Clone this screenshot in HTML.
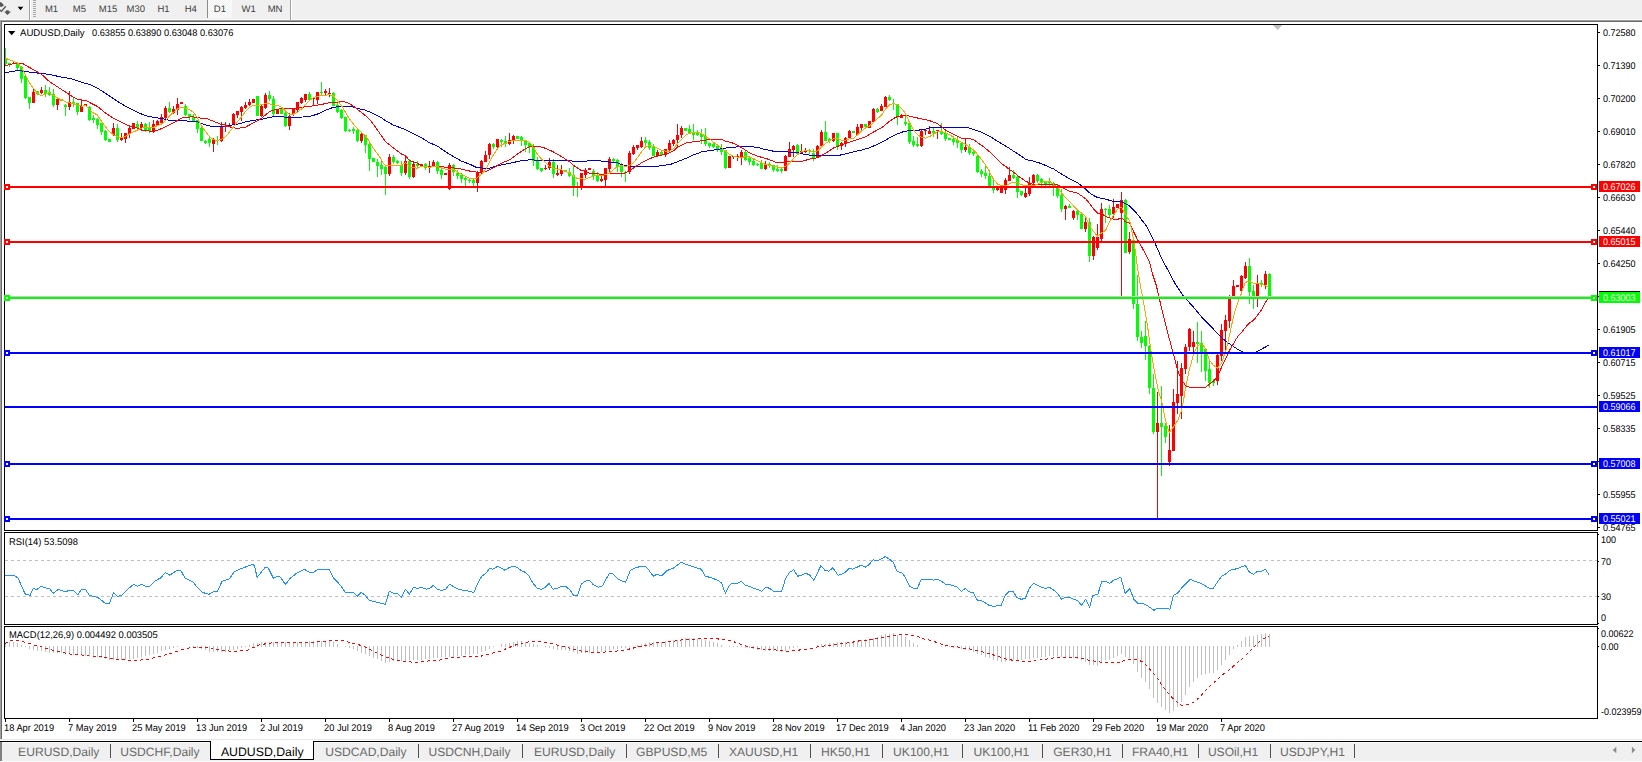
<!DOCTYPE html>
<html><head><meta charset="utf-8"><title>AUDUSD,Daily</title>
<style>
html,body{margin:0;padding:0;}
body{width:1642px;height:762px;overflow:hidden;background:#fff;position:relative;font-family:"Liberation Sans",sans-serif;text-rendering:geometricPrecision;}
.abs{position:absolute;white-space:nowrap;}
.t9{font-size:9.7px;line-height:11px;color:#000;transform:scaleX(.928);transform-origin:0 0;}
.tb{font-size:9.5px;line-height:12px;color:#404040;top:3.8px;transform:scaleX(1.0);transform-origin:0 0;}
.tab{font-size:12.1px;line-height:14px;color:#6a6a6a;top:745px;}
.sep{position:absolute;top:744px;width:1px;height:14px;background:#505050;}
.pl{position:absolute;left:1599px;width:41px;height:11px;color:#fff;font-size:9.7px;line-height:11px;}
.pl span{position:absolute;left:3.8px;top:0.9px;transform:scaleX(.928);transform-origin:0 0;}
</style></head><body>
<!-- toolbar -->
<div class="abs" style="left:0;top:0;width:1642px;height:19px;background:#f0f0f0;"></div>
<div class="abs" style="left:0;top:19px;width:1642px;height:1px;background:#fafafa;"></div>
<div class="abs" style="left:0;top:20px;width:1642px;height:1px;background:#a0a0a0;"></div>
<div class="abs" style="left:1px;top:21px;width:1642px;height:1px;background:#696969;"></div>
<div class="abs" style="left:0;top:21px;width:1px;height:718px;background:#a0a0a0;"></div>
<div class="abs" style="left:1px;top:22px;width:1px;height:717px;background:#696969;"></div>

<svg class="abs" style="left:0;top:0" width="40" height="20" viewBox="0 0 40 20"><polygon points="0,2.6 1,2 4,5.2 2,6.8 0,6.8" fill="#555"/><polyline points="5.8,6.2 1.3,11.4 0,9.8" fill="none" stroke="#555" stroke-width="1.3"/><polygon points="4,11.4 6.2,11.4 6.2,10.2 8.7,10.2 8.7,11.4 11,11.4 7.5,14.9" fill="#555"/><polygon points="17.7,6.8 23.3,6.8 20.5,10.3" fill="#000"/><rect x="29" y="0" width="1" height="20" fill="#a0a0a0"/><rect x="30" y="0" width="1" height="20" fill="#fff"/><rect x="33" y="0" width="3" height="1" fill="#a8a8a8"/><rect x="33" y="2" width="3" height="1" fill="#a8a8a8"/><rect x="33" y="4" width="3" height="1" fill="#a8a8a8"/><rect x="33" y="6" width="3" height="1" fill="#a8a8a8"/><rect x="33" y="8" width="3" height="1" fill="#a8a8a8"/><rect x="33" y="10" width="3" height="1" fill="#a8a8a8"/><rect x="33" y="12" width="3" height="1" fill="#a8a8a8"/><rect x="33" y="14" width="3" height="1" fill="#a8a8a8"/><rect x="33" y="16" width="3" height="1" fill="#a8a8a8"/></svg>
<div class="abs" style="left:207px;top:0;width:25px;height:18px;background-color:#f0f0f0;background-image:conic-gradient(#fff 25%,#f0f0f0 0 50%,#fff 0 75%,#f0f0f0 0);background-size:2px 2px;border-left:1px solid #8a8a8a;box-sizing:border-box;"></div>
<div class="abs" style="left:290px;top:0;width:1px;height:20px;background:#a0a0a0;"></div><div class="abs" style="left:291px;top:0;width:1px;height:20px;background:#fff;"></div>
<div class="abs tb" style="left:44.9px">M1</div>
<div class="abs tb" style="left:72.8px">M5</div>
<div class="abs tb" style="left:98.8px">M15</div>
<div class="abs tb" style="left:126.6px">M30</div>
<div class="abs tb" style="left:157.5px">H1</div>
<div class="abs tb" style="left:184.7px">H4</div>
<div class="abs tb" style="left:213.8px">D1</div>
<div class="abs tb" style="left:241.5px">W1</div>
<div class="abs tb" style="left:267.7px">MN</div>
<svg class="abs" style="left:0;top:0" width="1642" height="762" viewBox="0 0 1642 762">
<rect x="4.5" y="24.5" width="1593" height="506" fill="#fff" stroke="#000" stroke-width="1"/>
<rect x="4.5" y="532.5" width="1593" height="92" fill="#fff" stroke="#000" stroke-width="1"/>
<rect x="4.5" y="626.5" width="1593" height="92" fill="#fff" stroke="#000" stroke-width="1"/>
<g shape-rendering="crispEdges"><rect x="5" y="48" width="1" height="17" fill="#00ff00"/><rect x="4" y="58" width="3" height="6" fill="#00ff00"/><rect x="9" y="63" width="1" height="4" fill="#00ff00"/><rect x="8" y="63" width="3" height="2" fill="#00ff00"/><rect x="13" y="62" width="1" height="2" fill="#ff0000"/><rect x="12" y="63" width="3" height="1" fill="#ff0000"/><rect x="17" y="62" width="1" height="8" fill="#00ff00"/><rect x="16" y="63" width="3" height="5" fill="#00ff00"/><rect x="21" y="66" width="1" height="17" fill="#00ff00"/><rect x="20" y="67" width="3" height="12" fill="#00ff00"/><rect x="25" y="74" width="1" height="25" fill="#00ff00"/><rect x="24" y="76" width="3" height="22" fill="#00ff00"/><rect x="29" y="97" width="1" height="12" fill="#00ff00"/><rect x="28" y="97" width="3" height="6" fill="#00ff00"/><rect x="33" y="88" width="1" height="15" fill="#ff0000"/><rect x="32" y="92" width="3" height="11" fill="#ff0000"/><rect x="37" y="91" width="1" height="4" fill="#00ff00"/><rect x="36" y="91" width="3" height="3" fill="#00ff00"/><rect x="41" y="87" width="1" height="7" fill="#ff0000"/><rect x="40" y="90" width="3" height="3" fill="#ff0000"/><rect x="45" y="85" width="1" height="12" fill="#00ff00"/><rect x="44" y="90" width="3" height="4" fill="#00ff00"/><rect x="49" y="87" width="1" height="9" fill="#00ff00"/><rect x="48" y="92" width="3" height="3" fill="#00ff00"/><rect x="53" y="89" width="1" height="18" fill="#00ff00"/><rect x="52" y="94" width="3" height="11" fill="#00ff00"/><rect x="57" y="98" width="1" height="12" fill="#ff0000"/><rect x="56" y="99" width="3" height="6" fill="#ff0000"/><rect x="61" y="99" width="1" height="2" fill="#00ff00"/><rect x="60" y="99" width="3" height="2" fill="#00ff00"/><rect x="65" y="104" width="1" height="12" fill="#00ff00"/><rect x="64" y="105" width="3" height="2" fill="#00ff00"/><rect x="69" y="91" width="1" height="19" fill="#ff0000"/><rect x="68" y="102" width="3" height="5" fill="#ff0000"/><rect x="73" y="97" width="1" height="10" fill="#00ff00"/><rect x="72" y="102" width="3" height="1" fill="#00ff00"/><rect x="77" y="103" width="1" height="12" fill="#00ff00"/><rect x="76" y="103" width="3" height="9" fill="#00ff00"/><rect x="81" y="99" width="1" height="13" fill="#ff0000"/><rect x="80" y="106" width="3" height="6" fill="#ff0000"/><rect x="85" y="104" width="1" height="2" fill="#ff0000"/><rect x="84" y="104" width="3" height="2" fill="#ff0000"/><rect x="89" y="106" width="1" height="15" fill="#00ff00"/><rect x="88" y="107" width="3" height="13" fill="#00ff00"/><rect x="93" y="115" width="1" height="8" fill="#00ff00"/><rect x="92" y="118" width="3" height="2" fill="#00ff00"/><rect x="97" y="118" width="1" height="11" fill="#00ff00"/><rect x="96" y="119" width="3" height="6" fill="#00ff00"/><rect x="101" y="123" width="1" height="12" fill="#00ff00"/><rect x="100" y="123" width="3" height="9" fill="#00ff00"/><rect x="105" y="130" width="1" height="11" fill="#00ff00"/><rect x="104" y="131" width="3" height="9" fill="#00ff00"/><rect x="109" y="139" width="1" height="3" fill="#00ff00"/><rect x="108" y="139" width="3" height="3" fill="#00ff00"/><rect x="113" y="123" width="1" height="13" fill="#ff0000"/><rect x="112" y="128" width="3" height="7" fill="#ff0000"/><rect x="117" y="124" width="1" height="18" fill="#00ff00"/><rect x="116" y="128" width="3" height="12" fill="#00ff00"/><rect x="121" y="133" width="1" height="8" fill="#ff0000"/><rect x="120" y="138" width="3" height="2" fill="#ff0000"/><rect x="125" y="133" width="1" height="10" fill="#ff0000"/><rect x="124" y="133" width="3" height="6" fill="#ff0000"/><rect x="129" y="125" width="1" height="13" fill="#ff0000"/><rect x="128" y="128" width="3" height="6" fill="#ff0000"/><rect x="133" y="123" width="1" height="6" fill="#ff0000"/><rect x="132" y="123" width="3" height="6" fill="#ff0000"/><rect x="137" y="121" width="1" height="8" fill="#00ff00"/><rect x="136" y="124" width="3" height="4" fill="#00ff00"/><rect x="141" y="122" width="1" height="8" fill="#ff0000"/><rect x="140" y="124" width="3" height="4" fill="#ff0000"/><rect x="145" y="123" width="1" height="9" fill="#00ff00"/><rect x="144" y="124" width="3" height="6" fill="#00ff00"/><rect x="149" y="122" width="1" height="11" fill="#00ff00"/><rect x="148" y="127" width="3" height="4" fill="#00ff00"/><rect x="153" y="120" width="1" height="13" fill="#ff0000"/><rect x="152" y="124" width="3" height="7" fill="#ff0000"/><rect x="157" y="120" width="1" height="5" fill="#ff0000"/><rect x="156" y="121" width="3" height="4" fill="#ff0000"/><rect x="161" y="114" width="1" height="10" fill="#ff0000"/><rect x="160" y="117" width="3" height="6" fill="#ff0000"/><rect x="165" y="106" width="1" height="13" fill="#ff0000"/><rect x="164" y="108" width="3" height="10" fill="#ff0000"/><rect x="169" y="102" width="1" height="11" fill="#00ff00"/><rect x="168" y="108" width="3" height="4" fill="#00ff00"/><rect x="173" y="106" width="1" height="8" fill="#ff0000"/><rect x="172" y="109" width="3" height="4" fill="#ff0000"/><rect x="177" y="98" width="1" height="17" fill="#ff0000"/><rect x="176" y="104" width="3" height="6" fill="#ff0000"/><rect x="181" y="102" width="1" height="2" fill="#ff0000"/><rect x="180" y="102" width="3" height="2" fill="#ff0000"/><rect x="185" y="104" width="1" height="12" fill="#00ff00"/><rect x="184" y="106" width="3" height="9" fill="#00ff00"/><rect x="189" y="114" width="1" height="6" fill="#00ff00"/><rect x="188" y="114" width="3" height="3" fill="#00ff00"/><rect x="193" y="114" width="1" height="8" fill="#00ff00"/><rect x="192" y="117" width="3" height="4" fill="#00ff00"/><rect x="197" y="120" width="1" height="13" fill="#00ff00"/><rect x="196" y="120" width="3" height="9" fill="#00ff00"/><rect x="201" y="127" width="1" height="14" fill="#00ff00"/><rect x="200" y="128" width="3" height="13" fill="#00ff00"/><rect x="205" y="140" width="1" height="4" fill="#00ff00"/><rect x="204" y="141" width="3" height="2" fill="#00ff00"/><rect x="209" y="136" width="1" height="11" fill="#00ff00"/><rect x="208" y="139" width="3" height="4" fill="#00ff00"/><rect x="213" y="138" width="1" height="14" fill="#ff0000"/><rect x="212" y="140" width="3" height="4" fill="#ff0000"/><rect x="217" y="136" width="1" height="9" fill="#00ff00"/><rect x="216" y="140" width="3" height="1" fill="#00ff00"/><rect x="221" y="122" width="1" height="20" fill="#ff0000"/><rect x="220" y="126" width="3" height="15" fill="#ff0000"/><rect x="225" y="122" width="1" height="10" fill="#ff0000"/><rect x="224" y="126" width="3" height="1" fill="#ff0000"/><rect x="229" y="123" width="1" height="4" fill="#ff0000"/><rect x="228" y="125" width="3" height="2" fill="#ff0000"/><rect x="233" y="113" width="1" height="11" fill="#ff0000"/><rect x="232" y="114" width="3" height="10" fill="#ff0000"/><rect x="237" y="111" width="1" height="7" fill="#ff0000"/><rect x="236" y="111" width="3" height="4" fill="#ff0000"/><rect x="241" y="106" width="1" height="15" fill="#ff0000"/><rect x="240" y="107" width="3" height="5" fill="#ff0000"/><rect x="245" y="102" width="1" height="7" fill="#ff0000"/><rect x="244" y="105" width="3" height="3" fill="#ff0000"/><rect x="249" y="99" width="1" height="7" fill="#ff0000"/><rect x="248" y="102" width="3" height="3" fill="#ff0000"/><rect x="253" y="99" width="1" height="4" fill="#ff0000"/><rect x="252" y="99" width="3" height="4" fill="#ff0000"/><rect x="257" y="96" width="1" height="20" fill="#00ff00"/><rect x="256" y="96" width="3" height="20" fill="#00ff00"/><rect x="261" y="104" width="1" height="13" fill="#ff0000"/><rect x="260" y="106" width="3" height="10" fill="#ff0000"/><rect x="265" y="93" width="1" height="16" fill="#ff0000"/><rect x="264" y="95" width="3" height="13" fill="#ff0000"/><rect x="269" y="91" width="1" height="10" fill="#00ff00"/><rect x="268" y="95" width="3" height="4" fill="#00ff00"/><rect x="273" y="96" width="1" height="21" fill="#00ff00"/><rect x="272" y="99" width="3" height="15" fill="#00ff00"/><rect x="277" y="109" width="1" height="5" fill="#ff0000"/><rect x="276" y="109" width="3" height="5" fill="#ff0000"/><rect x="281" y="108" width="1" height="6" fill="#00ff00"/><rect x="280" y="108" width="3" height="6" fill="#00ff00"/><rect x="285" y="111" width="1" height="16" fill="#00ff00"/><rect x="284" y="113" width="3" height="13" fill="#00ff00"/><rect x="289" y="113" width="1" height="17" fill="#ff0000"/><rect x="288" y="116" width="3" height="10" fill="#ff0000"/><rect x="293" y="108" width="1" height="8" fill="#ff0000"/><rect x="292" y="108" width="3" height="6" fill="#ff0000"/><rect x="297" y="102" width="1" height="10" fill="#ff0000"/><rect x="296" y="102" width="3" height="8" fill="#ff0000"/><rect x="301" y="97" width="1" height="7" fill="#ff0000"/><rect x="300" y="98" width="3" height="5" fill="#ff0000"/><rect x="305" y="94" width="1" height="8" fill="#ff0000"/><rect x="304" y="94" width="3" height="6" fill="#ff0000"/><rect x="309" y="92" width="1" height="8" fill="#00ff00"/><rect x="308" y="94" width="3" height="6" fill="#00ff00"/><rect x="313" y="98" width="1" height="8" fill="#ff0000"/><rect x="312" y="98" width="3" height="1" fill="#ff0000"/><rect x="317" y="92" width="1" height="12" fill="#ff0000"/><rect x="316" y="92" width="3" height="8" fill="#ff0000"/><rect x="321" y="82" width="1" height="13" fill="#00ff00"/><rect x="320" y="92" width="3" height="1" fill="#00ff00"/><rect x="325" y="89" width="1" height="6" fill="#ff0000"/><rect x="324" y="91" width="3" height="2" fill="#ff0000"/><rect x="329" y="88" width="1" height="9" fill="#ff0000"/><rect x="328" y="93" width="3" height="1" fill="#ff0000"/><rect x="333" y="92" width="1" height="14" fill="#00ff00"/><rect x="332" y="93" width="3" height="13" fill="#00ff00"/><rect x="337" y="103" width="1" height="10" fill="#00ff00"/><rect x="336" y="105" width="3" height="7" fill="#00ff00"/><rect x="341" y="109" width="1" height="10" fill="#00ff00"/><rect x="340" y="110" width="3" height="8" fill="#00ff00"/><rect x="345" y="117" width="1" height="15" fill="#00ff00"/><rect x="344" y="117" width="3" height="14" fill="#00ff00"/><rect x="349" y="129" width="1" height="3" fill="#00ff00"/><rect x="348" y="130" width="3" height="1" fill="#00ff00"/><rect x="353" y="127" width="1" height="7" fill="#00ff00"/><rect x="352" y="129" width="3" height="2" fill="#00ff00"/><rect x="357" y="130" width="1" height="12" fill="#00ff00"/><rect x="356" y="130" width="3" height="11" fill="#00ff00"/><rect x="361" y="132" width="1" height="11" fill="#ff0000"/><rect x="360" y="134" width="3" height="7" fill="#ff0000"/><rect x="365" y="135" width="1" height="18" fill="#00ff00"/><rect x="364" y="135" width="3" height="10" fill="#00ff00"/><rect x="369" y="142" width="1" height="29" fill="#00ff00"/><rect x="368" y="144" width="3" height="15" fill="#00ff00"/><rect x="373" y="158" width="1" height="4" fill="#00ff00"/><rect x="372" y="158" width="3" height="4" fill="#00ff00"/><rect x="377" y="159" width="1" height="18" fill="#00ff00"/><rect x="376" y="162" width="3" height="4" fill="#00ff00"/><rect x="381" y="161" width="1" height="14" fill="#00ff00"/><rect x="380" y="165" width="3" height="4" fill="#00ff00"/><rect x="385" y="165" width="1" height="30" fill="#00ff00"/><rect x="384" y="167" width="3" height="7" fill="#00ff00"/><rect x="389" y="154" width="1" height="22" fill="#ff0000"/><rect x="388" y="157" width="3" height="17" fill="#ff0000"/><rect x="393" y="155" width="1" height="9" fill="#00ff00"/><rect x="392" y="157" width="3" height="5" fill="#00ff00"/><rect x="397" y="160" width="1" height="4" fill="#00ff00"/><rect x="396" y="161" width="3" height="2" fill="#00ff00"/><rect x="401" y="161" width="1" height="15" fill="#00ff00"/><rect x="400" y="165" width="3" height="8" fill="#00ff00"/><rect x="405" y="155" width="1" height="20" fill="#ff0000"/><rect x="404" y="161" width="3" height="12" fill="#ff0000"/><rect x="409" y="159" width="1" height="20" fill="#00ff00"/><rect x="408" y="161" width="3" height="16" fill="#00ff00"/><rect x="413" y="161" width="1" height="17" fill="#ff0000"/><rect x="412" y="164" width="3" height="13" fill="#ff0000"/><rect x="417" y="161" width="1" height="7" fill="#00ff00"/><rect x="416" y="164" width="3" height="2" fill="#00ff00"/><rect x="421" y="164" width="1" height="2" fill="#ff0000"/><rect x="420" y="164" width="3" height="2" fill="#ff0000"/><rect x="425" y="163" width="1" height="7" fill="#00ff00"/><rect x="424" y="164" width="3" height="4" fill="#00ff00"/><rect x="429" y="161" width="1" height="12" fill="#ff0000"/><rect x="428" y="166" width="3" height="2" fill="#ff0000"/><rect x="433" y="160" width="1" height="7" fill="#ff0000"/><rect x="432" y="162" width="3" height="4" fill="#ff0000"/><rect x="437" y="161" width="1" height="13" fill="#00ff00"/><rect x="436" y="162" width="3" height="9" fill="#00ff00"/><rect x="441" y="168" width="1" height="11" fill="#00ff00"/><rect x="440" y="170" width="3" height="5" fill="#00ff00"/><rect x="445" y="173" width="1" height="2" fill="#ff0000"/><rect x="444" y="173" width="3" height="2" fill="#ff0000"/><rect x="449" y="163" width="1" height="27" fill="#ff0000"/><rect x="448" y="165" width="3" height="24" fill="#ff0000"/><rect x="453" y="164" width="1" height="12" fill="#00ff00"/><rect x="452" y="165" width="3" height="7" fill="#00ff00"/><rect x="457" y="170" width="1" height="9" fill="#00ff00"/><rect x="456" y="173" width="3" height="3" fill="#00ff00"/><rect x="461" y="173" width="1" height="10" fill="#00ff00"/><rect x="460" y="175" width="3" height="4" fill="#00ff00"/><rect x="465" y="176" width="1" height="10" fill="#00ff00"/><rect x="464" y="178" width="3" height="2" fill="#00ff00"/><rect x="469" y="179" width="1" height="4" fill="#00ff00"/><rect x="468" y="180" width="3" height="1" fill="#00ff00"/><rect x="473" y="178" width="1" height="8" fill="#00ff00"/><rect x="472" y="180" width="3" height="3" fill="#00ff00"/><rect x="477" y="171" width="1" height="21" fill="#ff0000"/><rect x="476" y="172" width="3" height="11" fill="#ff0000"/><rect x="481" y="160" width="1" height="14" fill="#ff0000"/><rect x="480" y="161" width="3" height="11" fill="#ff0000"/><rect x="485" y="151" width="1" height="11" fill="#ff0000"/><rect x="484" y="155" width="3" height="7" fill="#ff0000"/><rect x="489" y="143" width="1" height="16" fill="#ff0000"/><rect x="488" y="144" width="3" height="11" fill="#ff0000"/><rect x="493" y="143" width="1" height="6" fill="#00ff00"/><rect x="492" y="144" width="3" height="3" fill="#00ff00"/><rect x="497" y="139" width="1" height="10" fill="#ff0000"/><rect x="496" y="139" width="3" height="8" fill="#ff0000"/><rect x="501" y="139" width="1" height="8" fill="#00ff00"/><rect x="500" y="140" width="3" height="2" fill="#00ff00"/><rect x="505" y="136" width="1" height="11" fill="#00ff00"/><rect x="504" y="141" width="3" height="3" fill="#00ff00"/><rect x="509" y="133" width="1" height="12" fill="#ff0000"/><rect x="508" y="140" width="3" height="4" fill="#ff0000"/><rect x="513" y="135" width="1" height="9" fill="#ff0000"/><rect x="512" y="136" width="3" height="4" fill="#ff0000"/><rect x="517" y="136" width="1" height="3" fill="#00ff00"/><rect x="516" y="136" width="3" height="3" fill="#00ff00"/><rect x="521" y="136" width="1" height="10" fill="#00ff00"/><rect x="520" y="137" width="3" height="3" fill="#00ff00"/><rect x="525" y="141" width="1" height="11" fill="#00ff00"/><rect x="524" y="141" width="3" height="4" fill="#00ff00"/><rect x="529" y="142" width="1" height="11" fill="#00ff00"/><rect x="528" y="143" width="3" height="4" fill="#00ff00"/><rect x="533" y="144" width="1" height="22" fill="#00ff00"/><rect x="532" y="147" width="3" height="14" fill="#00ff00"/><rect x="537" y="157" width="1" height="13" fill="#00ff00"/><rect x="536" y="161" width="3" height="8" fill="#00ff00"/><rect x="541" y="168" width="1" height="4" fill="#00ff00"/><rect x="540" y="168" width="3" height="3" fill="#00ff00"/><rect x="545" y="165" width="1" height="5" fill="#ff0000"/><rect x="544" y="168" width="3" height="1" fill="#ff0000"/><rect x="549" y="158" width="1" height="12" fill="#ff0000"/><rect x="548" y="162" width="3" height="6" fill="#ff0000"/><rect x="553" y="159" width="1" height="19" fill="#00ff00"/><rect x="552" y="162" width="3" height="12" fill="#00ff00"/><rect x="557" y="165" width="1" height="11" fill="#ff0000"/><rect x="556" y="173" width="3" height="2" fill="#ff0000"/><rect x="561" y="165" width="1" height="11" fill="#ff0000"/><rect x="560" y="170" width="3" height="4" fill="#ff0000"/><rect x="565" y="170" width="1" height="2" fill="#00ff00"/><rect x="564" y="170" width="3" height="2" fill="#00ff00"/><rect x="569" y="168" width="1" height="9" fill="#00ff00"/><rect x="568" y="172" width="3" height="4" fill="#00ff00"/><rect x="573" y="166" width="1" height="30" fill="#00ff00"/><rect x="572" y="175" width="3" height="11" fill="#00ff00"/><rect x="577" y="182" width="1" height="15" fill="#00ff00"/><rect x="576" y="187" width="3" height="1" fill="#00ff00"/><rect x="581" y="173" width="1" height="17" fill="#ff0000"/><rect x="580" y="173" width="3" height="15" fill="#ff0000"/><rect x="585" y="168" width="1" height="10" fill="#ff0000"/><rect x="584" y="170" width="3" height="5" fill="#ff0000"/><rect x="589" y="168" width="1" height="2" fill="#ff0000"/><rect x="588" y="168" width="3" height="2" fill="#ff0000"/><rect x="593" y="169" width="1" height="11" fill="#00ff00"/><rect x="592" y="171" width="3" height="5" fill="#00ff00"/><rect x="597" y="172" width="1" height="10" fill="#00ff00"/><rect x="596" y="175" width="3" height="6" fill="#00ff00"/><rect x="601" y="175" width="1" height="7" fill="#ff0000"/><rect x="600" y="179" width="3" height="2" fill="#ff0000"/><rect x="605" y="168" width="1" height="18" fill="#ff0000"/><rect x="604" y="168" width="3" height="12" fill="#ff0000"/><rect x="609" y="157" width="1" height="15" fill="#ff0000"/><rect x="608" y="159" width="3" height="10" fill="#ff0000"/><rect x="613" y="158" width="1" height="4" fill="#00ff00"/><rect x="612" y="159" width="3" height="2" fill="#00ff00"/><rect x="617" y="159" width="1" height="13" fill="#00ff00"/><rect x="616" y="160" width="3" height="7" fill="#00ff00"/><rect x="621" y="163" width="1" height="14" fill="#00ff00"/><rect x="620" y="166" width="3" height="6" fill="#00ff00"/><rect x="625" y="171" width="1" height="11" fill="#00ff00"/><rect x="624" y="172" width="3" height="1" fill="#00ff00"/><rect x="629" y="151" width="1" height="23" fill="#ff0000"/><rect x="628" y="153" width="3" height="19" fill="#ff0000"/><rect x="633" y="145" width="1" height="10" fill="#ff0000"/><rect x="632" y="147" width="3" height="7" fill="#ff0000"/><rect x="637" y="145" width="1" height="5" fill="#ff0000"/><rect x="636" y="145" width="3" height="3" fill="#ff0000"/><rect x="641" y="137" width="1" height="11" fill="#ff0000"/><rect x="640" y="141" width="3" height="6" fill="#ff0000"/><rect x="645" y="137" width="1" height="9" fill="#00ff00"/><rect x="644" y="140" width="3" height="3" fill="#00ff00"/><rect x="649" y="140" width="1" height="10" fill="#00ff00"/><rect x="648" y="142" width="3" height="6" fill="#00ff00"/><rect x="653" y="144" width="1" height="12" fill="#00ff00"/><rect x="652" y="147" width="3" height="9" fill="#00ff00"/><rect x="657" y="150" width="1" height="7" fill="#ff0000"/><rect x="656" y="152" width="3" height="4" fill="#ff0000"/><rect x="661" y="151" width="1" height="5" fill="#00ff00"/><rect x="660" y="152" width="3" height="3" fill="#00ff00"/><rect x="665" y="149" width="1" height="8" fill="#ff0000"/><rect x="664" y="149" width="3" height="5" fill="#ff0000"/><rect x="669" y="140" width="1" height="11" fill="#ff0000"/><rect x="668" y="143" width="3" height="7" fill="#ff0000"/><rect x="673" y="139" width="1" height="7" fill="#ff0000"/><rect x="672" y="140" width="3" height="4" fill="#ff0000"/><rect x="677" y="124" width="1" height="22" fill="#ff0000"/><rect x="676" y="135" width="3" height="5" fill="#ff0000"/><rect x="681" y="126" width="1" height="12" fill="#ff0000"/><rect x="680" y="128" width="3" height="7" fill="#ff0000"/><rect x="685" y="128" width="1" height="3" fill="#00ff00"/><rect x="684" y="128" width="3" height="3" fill="#00ff00"/><rect x="689" y="125" width="1" height="8" fill="#00ff00"/><rect x="688" y="129" width="3" height="4" fill="#00ff00"/><rect x="693" y="124" width="1" height="16" fill="#00ff00"/><rect x="692" y="132" width="3" height="3" fill="#00ff00"/><rect x="697" y="130" width="1" height="6" fill="#00ff00"/><rect x="696" y="132" width="3" height="3" fill="#00ff00"/><rect x="701" y="129" width="1" height="15" fill="#00ff00"/><rect x="700" y="134" width="3" height="3" fill="#00ff00"/><rect x="705" y="128" width="1" height="18" fill="#00ff00"/><rect x="704" y="136" width="3" height="8" fill="#00ff00"/><rect x="709" y="143" width="1" height="5" fill="#00ff00"/><rect x="708" y="143" width="3" height="3" fill="#00ff00"/><rect x="713" y="142" width="1" height="6" fill="#00ff00"/><rect x="712" y="144" width="3" height="3" fill="#00ff00"/><rect x="717" y="145" width="1" height="7" fill="#00ff00"/><rect x="716" y="146" width="3" height="3" fill="#00ff00"/><rect x="721" y="144" width="1" height="11" fill="#00ff00"/><rect x="720" y="148" width="3" height="4" fill="#00ff00"/><rect x="725" y="150" width="1" height="19" fill="#00ff00"/><rect x="724" y="150" width="3" height="18" fill="#00ff00"/><rect x="729" y="156" width="1" height="12" fill="#ff0000"/><rect x="728" y="156" width="3" height="12" fill="#ff0000"/><rect x="733" y="156" width="1" height="3" fill="#ff0000"/><rect x="732" y="156" width="3" height="1" fill="#ff0000"/><rect x="737" y="154" width="1" height="7" fill="#ff0000"/><rect x="736" y="156" width="3" height="1" fill="#ff0000"/><rect x="741" y="150" width="1" height="15" fill="#ff0000"/><rect x="740" y="152" width="3" height="5" fill="#ff0000"/><rect x="745" y="150" width="1" height="11" fill="#00ff00"/><rect x="744" y="152" width="3" height="8" fill="#00ff00"/><rect x="749" y="156" width="1" height="9" fill="#00ff00"/><rect x="748" y="158" width="3" height="4" fill="#00ff00"/><rect x="753" y="159" width="1" height="7" fill="#00ff00"/><rect x="752" y="161" width="3" height="4" fill="#00ff00"/><rect x="757" y="163" width="1" height="3" fill="#00ff00"/><rect x="756" y="164" width="3" height="1" fill="#00ff00"/><rect x="761" y="160" width="1" height="9" fill="#00ff00"/><rect x="760" y="163" width="3" height="6" fill="#00ff00"/><rect x="765" y="161" width="1" height="9" fill="#ff0000"/><rect x="764" y="164" width="3" height="5" fill="#ff0000"/><rect x="769" y="162" width="1" height="6" fill="#00ff00"/><rect x="768" y="164" width="3" height="1" fill="#00ff00"/><rect x="773" y="165" width="1" height="7" fill="#00ff00"/><rect x="772" y="165" width="3" height="5" fill="#00ff00"/><rect x="777" y="165" width="1" height="7" fill="#00ff00"/><rect x="776" y="169" width="3" height="2" fill="#00ff00"/><rect x="781" y="168" width="1" height="5" fill="#00ff00"/><rect x="780" y="169" width="3" height="2" fill="#00ff00"/><rect x="785" y="155" width="1" height="16" fill="#ff0000"/><rect x="784" y="156" width="3" height="15" fill="#ff0000"/><rect x="789" y="142" width="1" height="15" fill="#ff0000"/><rect x="788" y="149" width="3" height="8" fill="#ff0000"/><rect x="793" y="145" width="1" height="12" fill="#ff0000"/><rect x="792" y="146" width="3" height="4" fill="#ff0000"/><rect x="797" y="144" width="1" height="11" fill="#00ff00"/><rect x="796" y="145" width="3" height="9" fill="#00ff00"/><rect x="801" y="144" width="1" height="9" fill="#ff0000"/><rect x="800" y="151" width="3" height="2" fill="#ff0000"/><rect x="805" y="148" width="1" height="5" fill="#ff0000"/><rect x="804" y="151" width="3" height="1" fill="#ff0000"/><rect x="809" y="149" width="1" height="5" fill="#00ff00"/><rect x="808" y="150" width="3" height="1" fill="#00ff00"/><rect x="813" y="149" width="1" height="12" fill="#00ff00"/><rect x="812" y="153" width="3" height="6" fill="#00ff00"/><rect x="817" y="145" width="1" height="13" fill="#ff0000"/><rect x="816" y="146" width="3" height="12" fill="#ff0000"/><rect x="821" y="130" width="1" height="16" fill="#ff0000"/><rect x="820" y="132" width="3" height="14" fill="#ff0000"/><rect x="825" y="121" width="1" height="20" fill="#00ff00"/><rect x="824" y="132" width="3" height="9" fill="#00ff00"/><rect x="829" y="138" width="1" height="5" fill="#00ff00"/><rect x="828" y="139" width="3" height="2" fill="#00ff00"/><rect x="833" y="133" width="1" height="9" fill="#ff0000"/><rect x="832" y="133" width="3" height="8" fill="#ff0000"/><rect x="837" y="133" width="1" height="17" fill="#00ff00"/><rect x="836" y="133" width="3" height="13" fill="#00ff00"/><rect x="841" y="142" width="1" height="8" fill="#ff0000"/><rect x="840" y="143" width="3" height="3" fill="#ff0000"/><rect x="845" y="137" width="1" height="10" fill="#ff0000"/><rect x="844" y="138" width="3" height="6" fill="#ff0000"/><rect x="849" y="130" width="1" height="9" fill="#ff0000"/><rect x="848" y="131" width="3" height="7" fill="#ff0000"/><rect x="853" y="131" width="1" height="2" fill="#00ff00"/><rect x="852" y="131" width="3" height="2" fill="#00ff00"/><rect x="857" y="124" width="1" height="11" fill="#ff0000"/><rect x="856" y="127" width="3" height="8" fill="#ff0000"/><rect x="861" y="124" width="1" height="6" fill="#ff0000"/><rect x="860" y="124" width="3" height="4" fill="#ff0000"/><rect x="865" y="124" width="1" height="4" fill="#00ff00"/><rect x="864" y="124" width="3" height="3" fill="#00ff00"/><rect x="869" y="121" width="1" height="7" fill="#ff0000"/><rect x="868" y="121" width="3" height="7" fill="#ff0000"/><rect x="873" y="108" width="1" height="14" fill="#ff0000"/><rect x="872" y="109" width="3" height="13" fill="#ff0000"/><rect x="877" y="108" width="1" height="5" fill="#00ff00"/><rect x="876" y="109" width="3" height="3" fill="#00ff00"/><rect x="881" y="104" width="1" height="7" fill="#ff0000"/><rect x="880" y="106" width="3" height="5" fill="#ff0000"/><rect x="885" y="96" width="1" height="11" fill="#ff0000"/><rect x="884" y="97" width="3" height="10" fill="#ff0000"/><rect x="889" y="95" width="1" height="6" fill="#00ff00"/><rect x="888" y="97" width="3" height="3" fill="#00ff00"/><rect x="893" y="99" width="1" height="11" fill="#00ff00"/><rect x="892" y="103" width="3" height="1" fill="#00ff00"/><rect x="897" y="104" width="1" height="21" fill="#00ff00"/><rect x="896" y="104" width="3" height="13" fill="#00ff00"/><rect x="901" y="114" width="1" height="4" fill="#ff0000"/><rect x="900" y="115" width="3" height="3" fill="#ff0000"/><rect x="905" y="116" width="1" height="10" fill="#00ff00"/><rect x="904" y="122" width="3" height="2" fill="#00ff00"/><rect x="909" y="122" width="1" height="22" fill="#00ff00"/><rect x="908" y="123" width="3" height="19" fill="#00ff00"/><rect x="913" y="136" width="1" height="11" fill="#00ff00"/><rect x="912" y="141" width="3" height="4" fill="#00ff00"/><rect x="917" y="137" width="1" height="10" fill="#00ff00"/><rect x="916" y="144" width="3" height="2" fill="#00ff00"/><rect x="921" y="130" width="1" height="17" fill="#ff0000"/><rect x="920" y="131" width="3" height="15" fill="#ff0000"/><rect x="925" y="130" width="1" height="5" fill="#ff0000"/><rect x="924" y="130" width="3" height="1" fill="#ff0000"/><rect x="929" y="126" width="1" height="8" fill="#ff0000"/><rect x="928" y="131" width="3" height="3" fill="#ff0000"/><rect x="933" y="128" width="1" height="9" fill="#00ff00"/><rect x="932" y="131" width="3" height="2" fill="#00ff00"/><rect x="937" y="130" width="1" height="9" fill="#ff0000"/><rect x="936" y="130" width="3" height="1" fill="#ff0000"/><rect x="941" y="123" width="1" height="12" fill="#00ff00"/><rect x="940" y="131" width="3" height="3" fill="#00ff00"/><rect x="945" y="130" width="1" height="11" fill="#00ff00"/><rect x="944" y="133" width="3" height="6" fill="#00ff00"/><rect x="949" y="138" width="1" height="2" fill="#00ff00"/><rect x="948" y="138" width="3" height="2" fill="#00ff00"/><rect x="953" y="136" width="1" height="9" fill="#00ff00"/><rect x="952" y="139" width="3" height="3" fill="#00ff00"/><rect x="957" y="137" width="1" height="11" fill="#00ff00"/><rect x="956" y="140" width="3" height="3" fill="#00ff00"/><rect x="961" y="142" width="1" height="11" fill="#00ff00"/><rect x="960" y="143" width="3" height="7" fill="#00ff00"/><rect x="965" y="138" width="1" height="14" fill="#ff0000"/><rect x="964" y="147" width="3" height="3" fill="#ff0000"/><rect x="969" y="144" width="1" height="11" fill="#00ff00"/><rect x="968" y="147" width="3" height="6" fill="#00ff00"/><rect x="973" y="151" width="1" height="5" fill="#00ff00"/><rect x="972" y="152" width="3" height="2" fill="#00ff00"/><rect x="977" y="155" width="1" height="18" fill="#00ff00"/><rect x="976" y="156" width="3" height="16" fill="#00ff00"/><rect x="981" y="169" width="1" height="8" fill="#00ff00"/><rect x="980" y="171" width="3" height="3" fill="#00ff00"/><rect x="985" y="166" width="1" height="13" fill="#00ff00"/><rect x="984" y="173" width="3" height="3" fill="#00ff00"/><rect x="989" y="170" width="1" height="18" fill="#00ff00"/><rect x="988" y="176" width="3" height="11" fill="#00ff00"/><rect x="993" y="179" width="1" height="14" fill="#00ff00"/><rect x="992" y="187" width="3" height="3" fill="#00ff00"/><rect x="997" y="187" width="1" height="4" fill="#ff0000"/><rect x="996" y="188" width="3" height="2" fill="#ff0000"/><rect x="1001" y="185" width="1" height="8" fill="#ff0000"/><rect x="1000" y="188" width="3" height="5" fill="#ff0000"/><rect x="1005" y="178" width="1" height="16" fill="#ff0000"/><rect x="1004" y="180" width="3" height="10" fill="#ff0000"/><rect x="1009" y="167" width="1" height="14" fill="#ff0000"/><rect x="1008" y="175" width="3" height="6" fill="#ff0000"/><rect x="1013" y="170" width="1" height="9" fill="#00ff00"/><rect x="1012" y="175" width="3" height="3" fill="#00ff00"/><rect x="1017" y="176" width="1" height="22" fill="#00ff00"/><rect x="1016" y="177" width="3" height="15" fill="#00ff00"/><rect x="1021" y="191" width="1" height="5" fill="#00ff00"/><rect x="1020" y="191" width="3" height="4" fill="#00ff00"/><rect x="1025" y="185" width="1" height="13" fill="#ff0000"/><rect x="1024" y="193" width="3" height="4" fill="#ff0000"/><rect x="1029" y="177" width="1" height="19" fill="#ff0000"/><rect x="1028" y="183" width="3" height="11" fill="#ff0000"/><rect x="1033" y="174" width="1" height="11" fill="#ff0000"/><rect x="1032" y="175" width="3" height="8" fill="#ff0000"/><rect x="1037" y="174" width="1" height="9" fill="#00ff00"/><rect x="1036" y="175" width="3" height="6" fill="#00ff00"/><rect x="1041" y="178" width="1" height="8" fill="#00ff00"/><rect x="1040" y="179" width="3" height="4" fill="#00ff00"/><rect x="1045" y="181" width="1" height="5" fill="#00ff00"/><rect x="1044" y="182" width="3" height="3" fill="#00ff00"/><rect x="1049" y="178" width="1" height="8" fill="#00ff00"/><rect x="1048" y="181" width="3" height="2" fill="#00ff00"/><rect x="1053" y="182" width="1" height="14" fill="#00ff00"/><rect x="1052" y="183" width="3" height="5" fill="#00ff00"/><rect x="1057" y="185" width="1" height="13" fill="#00ff00"/><rect x="1056" y="188" width="3" height="8" fill="#00ff00"/><rect x="1061" y="189" width="1" height="23" fill="#00ff00"/><rect x="1060" y="195" width="3" height="14" fill="#00ff00"/><rect x="1065" y="205" width="1" height="15" fill="#ff0000"/><rect x="1064" y="206" width="3" height="3" fill="#ff0000"/><rect x="1069" y="204" width="1" height="4" fill="#00ff00"/><rect x="1068" y="206" width="3" height="2" fill="#00ff00"/><rect x="1073" y="210" width="1" height="10" fill="#ff0000"/><rect x="1072" y="211" width="3" height="7" fill="#ff0000"/><rect x="1077" y="210" width="1" height="10" fill="#00ff00"/><rect x="1076" y="211" width="3" height="4" fill="#00ff00"/><rect x="1081" y="214" width="1" height="15" fill="#00ff00"/><rect x="1080" y="214" width="3" height="15" fill="#00ff00"/><rect x="1085" y="218" width="1" height="14" fill="#ff0000"/><rect x="1084" y="222" width="3" height="7" fill="#ff0000"/><rect x="1089" y="218" width="1" height="44" fill="#00ff00"/><rect x="1088" y="222" width="3" height="34" fill="#00ff00"/><rect x="1093" y="236" width="1" height="24" fill="#ff0000"/><rect x="1092" y="237" width="3" height="19" fill="#ff0000"/><rect x="1097" y="224" width="1" height="26" fill="#ff0000"/><rect x="1096" y="237" width="3" height="11" fill="#ff0000"/><rect x="1101" y="203" width="1" height="38" fill="#ff0000"/><rect x="1100" y="209" width="3" height="30" fill="#ff0000"/><rect x="1105" y="208" width="1" height="15" fill="#00ff00"/><rect x="1104" y="209" width="3" height="1" fill="#00ff00"/><rect x="1109" y="205" width="1" height="13" fill="#00ff00"/><rect x="1108" y="209" width="3" height="6" fill="#00ff00"/><rect x="1113" y="199" width="1" height="19" fill="#ff0000"/><rect x="1112" y="207" width="3" height="7" fill="#ff0000"/><rect x="1117" y="204" width="1" height="4" fill="#ff0000"/><rect x="1116" y="204" width="3" height="4" fill="#ff0000"/><rect x="1121" y="192" width="1" height="105" fill="#ff0000"/><rect x="1120" y="200" width="3" height="13" fill="#ff0000"/><rect x="1125" y="199" width="1" height="54" fill="#00ff00"/><rect x="1124" y="200" width="3" height="53" fill="#00ff00"/><rect x="1129" y="232" width="1" height="22" fill="#ff0000"/><rect x="1128" y="239" width="3" height="13" fill="#ff0000"/><rect x="1133" y="237" width="1" height="72" fill="#00ff00"/><rect x="1132" y="240" width="3" height="64" fill="#00ff00"/><rect x="1137" y="275" width="1" height="66" fill="#00ff00"/><rect x="1136" y="304" width="3" height="33" fill="#00ff00"/><rect x="1141" y="331" width="1" height="17" fill="#00ff00"/><rect x="1140" y="337" width="3" height="6" fill="#00ff00"/><rect x="1145" y="321" width="1" height="39" fill="#00ff00"/><rect x="1144" y="336" width="3" height="10" fill="#00ff00"/><rect x="1149" y="345" width="1" height="49" fill="#00ff00"/><rect x="1148" y="346" width="3" height="42" fill="#00ff00"/><rect x="1153" y="374" width="1" height="60" fill="#00ff00"/><rect x="1152" y="388" width="3" height="44" fill="#00ff00"/><rect x="1157" y="392" width="1" height="126" fill="#ff0000"/><rect x="1156" y="423" width="3" height="9" fill="#ff0000"/><rect x="1161" y="386" width="1" height="90" fill="#00ff00"/><rect x="1160" y="423" width="3" height="4" fill="#00ff00"/><rect x="1165" y="423" width="1" height="20" fill="#00ff00"/><rect x="1164" y="426" width="3" height="11" fill="#00ff00"/><rect x="1169" y="425" width="1" height="41" fill="#ff0000"/><rect x="1168" y="450" width="3" height="12" fill="#ff0000"/><rect x="1173" y="389" width="1" height="62" fill="#ff0000"/><rect x="1172" y="402" width="3" height="49" fill="#ff0000"/><rect x="1177" y="361" width="1" height="53" fill="#ff0000"/><rect x="1176" y="394" width="3" height="9" fill="#ff0000"/><rect x="1181" y="363" width="1" height="56" fill="#ff0000"/><rect x="1180" y="368" width="3" height="28" fill="#ff0000"/><rect x="1185" y="344" width="1" height="30" fill="#ff0000"/><rect x="1184" y="347" width="3" height="22" fill="#ff0000"/><rect x="1189" y="328" width="1" height="23" fill="#ff0000"/><rect x="1188" y="329" width="3" height="18" fill="#ff0000"/><rect x="1193" y="331" width="1" height="21" fill="#ff0000"/><rect x="1192" y="342" width="3" height="5" fill="#ff0000"/><rect x="1197" y="322" width="1" height="41" fill="#00ff00"/><rect x="1196" y="342" width="3" height="2" fill="#00ff00"/><rect x="1201" y="331" width="1" height="41" fill="#00ff00"/><rect x="1200" y="343" width="3" height="9" fill="#00ff00"/><rect x="1205" y="348" width="1" height="33" fill="#00ff00"/><rect x="1204" y="349" width="3" height="22" fill="#00ff00"/><rect x="1209" y="360" width="1" height="28" fill="#00ff00"/><rect x="1208" y="369" width="3" height="14" fill="#00ff00"/><rect x="1213" y="379" width="1" height="7" fill="#00ff00"/><rect x="1212" y="381" width="3" height="2" fill="#00ff00"/><rect x="1217" y="354" width="1" height="31" fill="#ff0000"/><rect x="1216" y="355" width="3" height="26" fill="#ff0000"/><rect x="1221" y="324" width="1" height="37" fill="#ff0000"/><rect x="1220" y="330" width="3" height="26" fill="#ff0000"/><rect x="1225" y="315" width="1" height="37" fill="#ff0000"/><rect x="1224" y="320" width="3" height="11" fill="#ff0000"/><rect x="1229" y="295" width="1" height="33" fill="#ff0000"/><rect x="1228" y="298" width="3" height="23" fill="#ff0000"/><rect x="1233" y="280" width="1" height="17" fill="#ff0000"/><rect x="1232" y="286" width="3" height="11" fill="#ff0000"/><rect x="1237" y="285" width="1" height="2" fill="#ff0000"/><rect x="1236" y="285" width="3" height="2" fill="#ff0000"/><rect x="1241" y="275" width="1" height="16" fill="#ff0000"/><rect x="1240" y="276" width="3" height="15" fill="#ff0000"/><rect x="1245" y="262" width="1" height="17" fill="#ff0000"/><rect x="1244" y="266" width="3" height="12" fill="#ff0000"/><rect x="1249" y="258" width="1" height="46" fill="#00ff00"/><rect x="1248" y="266" width="3" height="26" fill="#00ff00"/><rect x="1253" y="285" width="1" height="24" fill="#00ff00"/><rect x="1252" y="291" width="3" height="6" fill="#00ff00"/><rect x="1257" y="275" width="1" height="32" fill="#ff0000"/><rect x="1256" y="284" width="3" height="13" fill="#ff0000"/><rect x="1261" y="280" width="1" height="7" fill="#00ff00"/><rect x="1260" y="283" width="3" height="1" fill="#00ff00"/><rect x="1265" y="271" width="1" height="18" fill="#ff0000"/><rect x="1264" y="274" width="3" height="11" fill="#ff0000"/><rect x="1269" y="273" width="1" height="24" fill="#00ff00"/><rect x="1268" y="274" width="3" height="23" fill="#00ff00"/></g>
<polyline points="5.2,72.6 13.1,71.3 18.4,70.3 26.2,71.7 33.5,72.6 41.5,73.6 49.3,74.3 57.3,76.2 65.4,77.8 70.9,78.6 77.4,80.8 85.6,83.5 89.5,84.4 97.4,88.1 105.4,93.3 113.4,98.6 121.4,103.8 129.4,108.4 137.4,112.3 145.4,115.6 153.3,117.2 161.3,118.5 169.3,120.2 177.3,120.6 185.3,120.6 189.4,121.5 197.6,122.0 201.4,123.6 209.4,125.9 213.4,126.4 221.4,126.4 229.4,125.5 237.4,124.2 245.4,122.0 253.4,120.3 261.4,119.4 269.4,117.3 277.4,116.3 286.9,117.3 294.7,117.3 302.6,117.0 310.5,116.3 317.4,114.1 325.4,110.4 333.5,107.2 341.5,106.5 351.2,106.5 357.5,108.5 365.5,110.2 373.5,113.7 381.5,117.7 382.6,118.9 393.5,125.1 405.5,129.7 413.5,133.6 421.5,137.6 429.5,142.8 437.5,146.1 445.5,151.7 453.5,156.6 461.5,161.2 469.5,164.1 475.8,167.1 481.6,168.0 489.6,168.0 497.6,165.8 505.6,164.1 513.6,162.5 521.6,160.5 529.6,159.9 537.6,160.1 553.6,160.1 569.6,160.1 572.6,161.2 577.6,161.7 585.6,161.7 589.6,160.1 598.9,160.1 601.6,161.4 609.6,162.1 617.6,162.7 621.6,164.7 625.6,165.6 633.6,166.4 641.7,166.4 649.7,166.4 657.7,166.4 661.6,165.4 669.6,164.7 677.6,161.7 685.6,158.5 693.6,154.9 703.6,151.2 709.6,150.9 717.6,149.4 725.6,148.0 729.7,147.3 741.7,146.7 751.6,146.7 759.6,147.7 762.6,149.0 767.9,150.0 775.7,151.7 786.2,151.9 797.7,152.6 805.7,154.6 813.7,155.6 821.7,155.9 829.7,155.6 837.7,155.6 845.7,153.9 853.7,151.9 861.7,150.0 869.7,147.7 877.7,144.1 885.7,140.1 893.7,135.5 901.7,132.2 909.7,130.3 917.7,130.3 925.7,129.0 931.9,127.3 941.8,127.3 949.8,127.3 953.9,127.4 967.1,127.4 973.6,129.6 981.6,132.2 989.6,136.2 997.6,141.4 1005.6,146.0 1013.6,151.2 1021.7,156.5 1025.6,159.4 1033.6,161.1 1041.6,163.7 1049.6,167.3 1053.7,169.0 1061.7,174.2 1069.7,178.8 1077.7,182.7 1081.6,186.0 1085.6,188.9 1089.6,192.9 1093.6,195.5 1097.6,197.5 1105.6,199.2 1113.6,201.4 1121.7,201.8 1125.6,203.6 1129.7,206.0 1133.6,209.9 1137.7,214.5 1141.6,219.8 1147.1,227.0 1153.7,240.1 1161.7,258.5 1175.1,283.6 1183.6,296.4 1193.8,307.5 1202.4,317.8 1210.9,326.3 1219.4,335.7 1226.2,341.6 1231.4,345.1 1236.5,348.5 1241.6,351.5 1245.0,352.6 1255.2,352.6 1262.1,348.8 1268.9,345.1" fill="none" stroke="#0000cd" stroke-width="1" shape-rendering="crispEdges"/>
<polyline points="5.2,65.5 9.2,64.7 13.1,63.8 18.4,63.1 22.3,63.1 26.2,65.7 33.5,69.7 41.5,74.3 49.3,81.5 57.3,86.7 65.4,92.0 69.3,94.6 73.2,97.2 77.4,99.2 81.4,100.1 85.6,100.1 89.5,102.5 97.4,106.4 105.4,113.0 113.4,118.2 121.4,122.2 129.4,126.1 133.3,126.4 137.4,128.1 141.3,130.1 145.4,130.7 153.3,131.4 157.3,130.3 161.3,128.7 165.4,126.8 173.4,122.8 181.4,118.2 185.3,117.2 193.3,116.9 200.2,118.0 206.8,118.6 213.4,121.2 221.4,124.6 225.4,125.1 229.4,126.8 233.5,127.8 237.4,128.5 245.4,127.2 253.4,122.9 261.4,118.3 265.5,115.0 269.4,111.5 273.5,110.2 277.4,109.4 281.5,108.5 286.9,108.5 293.4,108.5 297.5,107.8 305.5,106.8 313.5,105.8 321.5,104.5 329.5,102.6 337.5,102.3 343.3,101.2 349.5,103.6 353.5,106.2 357.5,109.4 365.5,115.7 370.9,120.9 377.5,130.1 385.5,141.5 393.5,148.1 401.5,154.0 405.5,155.7 409.5,160.5 417.5,163.1 421.5,166.4 429.5,166.2 437.5,166.4 445.5,167.1 453.5,168.0 461.5,169.1 469.5,171.0 477.5,172.3 485.5,171.7 493.5,167.7 501.5,163.1 509.5,159.9 517.5,154.0 525.5,148.7 529.6,146.7 537.6,146.1 545.6,148.3 553.6,152.0 561.6,156.6 569.6,161.8 573.5,165.4 577.6,168.0 581.5,170.6 585.6,171.3 589.6,173.2 597.6,173.9 605.6,174.6 609.6,173.2 617.6,173.2 625.6,173.0 629.6,170.6 633.6,168.0 641.7,162.7 649.7,158.8 657.7,155.5 665.7,154.6 669.6,152.9 673.7,150.7 677.6,147.0 681.7,145.0 687.6,142.4 695.6,141.7 701.6,140.7 709.6,139.4 721.7,139.4 725.6,141.1 733.6,143.3 741.7,147.7 749.7,152.9 757.7,156.2 767.9,159.1 775.7,162.2 785.6,162.2 793.6,161.4 801.6,161.4 809.6,159.1 817.6,157.8 825.6,153.2 833.6,148.0 841.6,144.7 849.6,142.1 857.6,139.5 865.6,136.8 873.6,132.0 881.7,127.7 889.7,121.1 895.7,117.2 901.7,115.8 905.7,115.2 913.7,117.2 921.7,118.9 929.7,120.7 937.7,123.7 945.7,130.3 957.6,136.2 961.5,138.1 967.1,138.4 973.6,139.4 977.6,142.7 983.6,146.7 989.6,151.9 995.7,157.8 1001.6,163.7 1005.6,166.3 1009.6,169.6 1013.6,172.2 1017.6,175.5 1021.7,178.5 1025.6,181.4 1029.7,182.7 1033.6,184.7 1041.9,184.7 1049.7,184.7 1057.6,184.7 1061.7,186.7 1065.6,189.3 1069.7,191.3 1073.6,192.2 1077.7,193.2 1081.6,195.9 1085.6,198.8 1089.6,203.4 1093.6,208.9 1097.6,213.2 1101.6,213.6 1105.6,216.5 1109.6,217.8 1113.6,219.4 1117.6,219.4 1121.7,217.8 1125.6,222.0 1129.7,223.1 1133.6,231.6 1137.7,240.1 1141.6,246.7 1145.7,254.6 1149.6,262.4 1152.9,275.1 1156.3,285.4 1161.4,307.5 1168.2,334.8 1173.4,353.6 1177.6,370.6 1181.5,379.2 1185.6,386.0 1190.4,387.4 1195.5,387.4 1201.7,388.0 1205.6,387.4 1209.5,384.0 1213.6,380.9 1217.5,376.6 1221.6,367.2 1225.6,358.7 1229.6,350.2 1233.6,343.4 1237.7,336.5 1241.6,332.3 1245.7,327.1 1249.6,322.9 1253.5,320.3 1257.6,315.2 1261.4,310.0 1264.6,303.5 1267.7,299.2" fill="none" stroke="#ff0000" stroke-width="1" shape-rendering="crispEdges"/>
<polyline points="5.2,58.1 13.1,61.2 18.4,63.8 22.3,68.4 26.2,76.2 29.5,82.8 33.5,88.7 37.4,93.3 41.5,95.7 45.4,94.0 49.3,92.7 53.3,95.3 57.3,97.9 61.3,99.9 65.4,101.8 69.3,102.8 73.2,103.5 77.4,105.1 81.4,106.2 85.6,105.8 89.5,109.7 93.4,113.0 97.4,115.0 101.3,120.9 105.4,126.8 109.3,131.4 113.4,134.6 117.3,136.9 121.4,137.3 125.3,136.4 129.4,134.0 133.3,132.0 137.4,130.1 141.3,128.1 145.4,127.2 149.3,127.4 153.3,127.7 157.3,125.5 161.3,124.1 165.4,120.9 169.3,116.3 173.4,112.3 177.3,109.1 181.4,107.5 185.3,108.0 189.4,109.7 193.3,112.3 197.4,117.7 201.4,125.5 205.4,131.4 209.4,136.7 213.4,139.6 217.4,140.4 221.4,139.6 225.4,136.7 229.4,132.1 233.5,126.8 237.4,121.6 241.5,117.0 245.4,111.7 249.5,107.2 253.4,105.4 257.5,105.8 261.4,104.5 265.5,103.6 269.4,103.9 273.5,105.4 277.4,105.4 281.5,107.2 285.4,111.1 289.5,114.4 293.4,114.1 297.5,112.4 301.4,109.1 305.5,104.5 309.4,100.6 313.5,97.6 317.4,96.3 321.5,95.6 325.4,95.3 329.5,94.7 333.5,96.0 337.5,100.6 341.5,105.8 345.5,112.4 349.5,119.0 353.5,124.2 357.5,128.8 361.5,132.7 365.5,135.6 369.5,141.9 373.5,148.5 377.5,153.7 381.5,159.6 382.6,162.5 385.5,165.8 393.5,165.1 401.5,165.1 405.5,162.5 409.5,166.7 417.5,168.4 421.5,166.4 429.5,167.1 437.5,166.4 445.5,169.1 453.5,169.7 461.5,174.3 469.5,178.2 475.8,178.9 481.6,174.3 485.5,169.7 489.6,161.8 493.5,154.6 497.6,148.7 501.5,144.8 509.5,141.5 513.6,140.4 525.5,140.4 529.6,142.2 533.5,147.4 537.6,154.6 541.5,159.2 545.6,162.5 549.6,166.4 553.6,168.4 561.6,169.7 569.6,173.0 573.5,175.9 577.6,178.8 585.6,179.1 593.6,175.9 601.6,175.9 605.6,174.6 609.6,173.0 613.6,169.3 617.6,166.7 621.6,165.4 625.6,166.4 629.6,165.4 633.6,162.7 637.6,157.5 641.7,151.6 645.6,146.7 649.7,145.4 653.6,146.3 657.7,148.3 661.6,150.3 665.7,151.2 669.6,151.2 673.7,148.3 677.6,143.7 681.7,139.1 685.6,135.2 689.7,133.2 693.6,132.3 697.7,132.3 701.6,133.6 705.7,136.5 709.6,138.9 713.7,142.4 717.6,145.0 721.7,148.0 725.6,151.2 729.7,154.6 733.6,156.2 737.7,157.2 741.7,157.5 745.7,156.4 749.7,157.2 753.7,158.5 757.7,160.8 761.7,163.0 765.6,164.4 773.6,166.1 781.7,167.9 785.6,166.6 789.7,163.1 793.6,158.5 797.7,154.6 801.6,151.7 805.7,150.4 809.6,150.9 813.7,152.2 817.6,150.9 821.7,146.7 825.6,143.4 829.7,140.8 833.6,138.5 837.7,138.5 841.6,140.1 845.7,140.1 849.6,138.8 853.7,138.1 857.6,134.9 861.7,130.9 865.6,128.0 869.7,125.9 873.6,122.4 877.7,118.5 881.7,114.9 885.7,108.6 889.7,104.7 893.7,103.6 897.7,104.7 901.7,108.4 905.7,113.9 909.7,123.1 913.7,130.3 917.7,134.9 921.7,137.5 925.7,138.1 929.7,136.4 933.8,134.2 937.7,131.6 941.8,131.6 945.7,132.9 949.8,134.9 953.5,137.5 957.6,140.1 965.6,144.4 973.6,149.9 977.6,154.5 981.6,159.4 985.6,165.0 989.6,172.2 993.6,179.5 997.6,184.1 1001.6,185.6 1005.6,186.0 1009.6,183.4 1013.6,182.5 1017.6,182.7 1021.7,184.7 1025.6,185.6 1029.7,185.6 1033.6,185.6 1037.7,184.3 1041.6,182.1 1045.7,181.4 1049.6,181.7 1053.7,184.7 1057.6,187.6 1061.5,192.9 1065.6,197.5 1069.6,201.4 1073.6,206.0 1077.6,209.9 1081.6,213.2 1085.6,216.5 1089.6,225.7 1093.6,231.6 1097.6,236.2 1101.6,232.9 1105.6,230.3 1109.6,221.7 1113.6,215.2 1117.6,209.3 1121.7,207.3 1125.6,214.5 1129.7,221.1 1131.6,229.6 1133.6,240.1 1135.6,253.2 1137.7,269.0 1140.1,283.6 1144.4,307.5 1147.8,328.0 1151.2,351.9 1154.6,372.4 1158.9,392.8 1161.4,400.2 1164.8,417.3 1168.2,430.1 1169.6,432.3 1173.5,426.7 1177.6,420.7 1181.5,410.5 1183.6,400.2 1185.3,389.4 1188.7,372.4 1193.7,353.6 1197.6,345.9 1201.7,343.4 1205.6,348.5 1209.5,360.4 1213.6,365.5 1217.5,368.1 1221.6,363.0 1225.6,351.9 1229.6,334.8 1233.6,316.1 1235.4,310.0 1238.6,300.4 1240.9,294.9 1242.9,288.6 1245.3,282.7 1247.6,281.5 1250.4,281.7 1253.5,283.5 1258.3,283.7 1262.2,284.3 1265.4,285.8 1268.9,287.4" fill="none" stroke="#ffa500" stroke-width="1" shape-rendering="crispEdges"/>
<rect x="4.5" y="24.5" width="1593" height="506" fill="none" stroke="#000" stroke-width="1"/>
<g shape-rendering="crispEdges"><rect x="5" y="296" width="1592" height="1" fill="#d8c0d8"/><rect x="1599" y="291" width="41" height="1" fill="#000"/><rect x="5" y="186" width="1592" height="2" fill="#ff0000"/><rect x="4" y="184" width="6" height="6" fill="#ff0000"/><rect x="6" y="186" width="2" height="2" fill="#fff"/><rect x="1591" y="184" width="6" height="6" fill="#ff0000"/><rect x="1593" y="186" width="2" height="2" fill="#fff"/><rect x="5" y="241" width="1592" height="2" fill="#ff0000"/><rect x="4" y="239" width="6" height="6" fill="#ff0000"/><rect x="6" y="241" width="2" height="2" fill="#fff"/><rect x="1591" y="239" width="6" height="6" fill="#ff0000"/><rect x="1593" y="241" width="2" height="2" fill="#fff"/><rect x="5" y="297" width="1592" height="2" fill="#00ff00"/><rect x="4" y="295" width="6" height="6" fill="#00ff00"/><rect x="6" y="297" width="2" height="2" fill="#fff"/><rect x="1591" y="295" width="6" height="6" fill="#00ff00"/><rect x="1593" y="297" width="2" height="2" fill="#fff"/><rect x="5" y="352" width="1592" height="2" fill="#0000ff"/><rect x="4" y="350" width="6" height="6" fill="#0000ff"/><rect x="6" y="352" width="2" height="2" fill="#fff"/><rect x="1591" y="350" width="6" height="6" fill="#0000ff"/><rect x="1593" y="352" width="2" height="2" fill="#fff"/><rect x="5" y="406" width="1592" height="2" fill="#0000ff"/><rect x="5" y="463" width="1592" height="2" fill="#0000ff"/><rect x="4" y="461" width="6" height="6" fill="#0000ff"/><rect x="6" y="463" width="2" height="2" fill="#fff"/><rect x="1591" y="461" width="6" height="6" fill="#0000ff"/><rect x="1593" y="463" width="2" height="2" fill="#fff"/><rect x="5" y="518" width="1592" height="2" fill="#0000ff"/><rect x="4" y="516" width="6" height="6" fill="#0000ff"/><rect x="6" y="518" width="2" height="2" fill="#fff"/><rect x="1591" y="516" width="6" height="6" fill="#0000ff"/><rect x="1593" y="518" width="2" height="2" fill="#fff"/></g>
<polygon points="1272.8,25 1282.4,25 1277.6,29.9" fill="#c0c0c0"/>
<g shape-rendering="crispEdges"><rect x="1598" y="32" width="2" height="1" fill="#000"/><rect x="1598" y="65" width="2" height="1" fill="#000"/><rect x="1598" y="98" width="2" height="1" fill="#000"/><rect x="1598" y="131" width="2" height="1" fill="#000"/><rect x="1598" y="164" width="2" height="1" fill="#000"/><rect x="1598" y="197" width="2" height="1" fill="#000"/><rect x="1598" y="230" width="2" height="1" fill="#000"/><rect x="1598" y="263" width="2" height="1" fill="#000"/><rect x="1598" y="329" width="2" height="1" fill="#000"/><rect x="1598" y="362" width="2" height="1" fill="#000"/><rect x="1598" y="395" width="2" height="1" fill="#000"/><rect x="1598" y="428" width="2" height="1" fill="#000"/><rect x="1598" y="494" width="2" height="1" fill="#000"/><rect x="1598" y="527" width="2" height="1" fill="#000"/><rect x="1598" y="296" width="2" height="1" fill="#000"/><rect x="1598" y="461" width="2" height="1" fill="#000"/><rect x="1598" y="534" width="1" height="1" fill="#000"/><rect x="1598" y="561" width="1" height="1" fill="#000"/><rect x="1598" y="596" width="1" height="1" fill="#000"/><rect x="1598" y="623" width="1" height="1" fill="#000"/><rect x="1598" y="628" width="1" height="1" fill="#000"/><rect x="1598" y="646" width="1" height="1" fill="#000"/></g>
<g shape-rendering="crispEdges"><line x1="5" y1="560.5" x2="1597" y2="560.5" stroke="#c0c0c0" stroke-width="1" stroke-dasharray="3,3"/><line x1="5" y1="596.5" x2="1597" y2="596.5" stroke="#c0c0c0" stroke-width="1" stroke-dasharray="3,3"/></g>
<polyline points="5.0,575.4 14.1,575.4 18.1,578.2 25.1,593.9 30.1,595.3 33.2,588.7 37.2,589.3 41.2,586.3 45.2,587.9 49.2,588.3 53.3,593.3 58.3,589.3 65.3,591.9 69.3,590.3 73.4,590.3 78.0,594.7 81.4,589.3 85.4,589.3 89.4,595.3 97.5,597.3 105.5,603.4 109.5,603.4 113.5,592.7 117.6,596.3 121.6,595.3 127.6,589.3 133.6,584.3 137.7,586.3 141.7,584.3 145.7,586.3 149.7,586.3 154.7,581.2 160.8,577.8 165.2,572.6 169.8,575.2 176.8,570.6 180.9,570.6 184.9,577.8 192.9,581.8 198.0,588.3 202.0,592.3 209.0,594.3 213.0,591.9 217.4,591.3 222.1,581.2 229.1,579.2 234.1,571.8 241.2,568.6 252.2,564.6 254.2,565.2 257.2,577.2 265.3,567.2 268.3,568.2 273.3,578.2 277.3,576.2 280.3,577.2 285.4,584.3 290.4,578.2 297.4,572.6 304.5,569.4 309.5,572.2 313.5,572.2 317.5,569.8 325.6,569.8 329.0,569.4 333.7,578.2 341.1,585.9 345.1,592.3 353.2,592.3 357.2,596.3 361.2,592.3 365.2,595.3 369.2,600.3 377.3,602.3 385.3,604.4 389.3,591.3 393.4,593.3 397.4,593.3 401.4,597.3 405.4,589.3 409.4,594.3 413.4,587.3 417.5,588.3 421.5,587.3 426.5,589.3 430.5,587.9 433.5,585.3 437.6,589.3 441.6,590.3 445.6,589.3 449.6,584.3 453.6,586.7 458.7,589.3 464.7,590.7 470.7,591.3 473.7,592.7 477.8,583.3 481.8,576.2 485.8,573.2 489.8,568.2 492.8,569.2 497.9,566.2 504.9,570.2 509.9,567.2 513.9,566.2 516.9,567.2 522.0,571.2 525.0,572.2 529.0,576.2 533.0,583.3 537.0,587.9 541.1,589.3 545.1,587.3 549.1,583.3 553.1,589.3 557.1,588.3 561.2,586.3 566.2,586.7 570.2,590.3 573.6,595.3 577.6,595.3 581.3,584.3 585.3,581.2 589.3,580.2 593.3,584.7 598.3,587.3 602.4,585.9 609.4,573.2 613.4,574.2 617.4,578.6 621.4,580.6 625.5,582.3 630.5,570.2 635.5,567.8 641.5,566.2 645.6,566.6 649.0,570.2 653.1,576.2 657.1,574.2 661.1,576.2 667.1,570.6 673.2,568.2 681.2,562.2 685.2,564.2 689.2,565.2 697.3,568.2 701.3,569.2 705.3,576.2 709.3,577.2 713.4,578.6 717.4,580.2 721.4,582.7 725.4,593.3 729.4,585.3 732.4,583.3 737.5,583.3 741.5,581.2 745.5,585.3 749.5,586.3 753.5,588.3 757.6,589.3 761.6,591.3 765.6,587.3 769.6,588.3 773.6,591.3 781.7,591.3 785.7,578.2 789.7,572.2 793.7,569.8 797.8,576.2 801.8,575.2 805.8,573.2 809.8,575.2 813.8,580.2 820.9,565.8 824.9,570.2 828.9,571.2 832.9,567.8 838.0,575.2 841.0,574.6 845.0,572.6 849.0,568.6 853.0,569.2 857.0,567.2 861.1,565.2 865.1,567.2 869.1,564.6 873.1,559.7 877.1,561.1 881.2,559.1 885.2,556.5 889.2,559.1 893.2,562.2 897.2,571.8 901.3,572.2 905.3,577.2 909.3,585.9 913.3,588.3 917.3,588.3 921.4,579.2 929.4,579.2 933.4,580.2 937.4,579.2 941.4,581.2 945.5,584.3 949.5,584.3 953.5,585.9 957.5,587.3 961.5,591.3 965.6,588.3 969.0,591.9 973.1,592.3 977.1,599.9 983.1,601.3 989.1,605.4 993.2,606.4 1001.2,605.4 1005.2,595.3 1009.2,591.3 1013.3,591.9 1017.3,597.9 1021.3,599.3 1025.3,598.3 1029.3,588.3 1033.4,583.3 1037.4,585.3 1041.4,587.3 1045.4,588.3 1049.4,587.3 1053.4,589.9 1057.5,593.3 1061.5,599.3 1065.5,597.3 1069.5,597.3 1073.5,599.3 1077.6,600.3 1081.6,605.4 1085.6,599.3 1089.6,607.4 1092.6,595.3 1097.7,594.7 1101.7,581.8 1105.7,581.4 1109.7,583.3 1113.7,580.2 1120.8,577.4 1125.2,593.3 1129.8,588.7 1133.8,599.3 1137.9,603.4 1141.9,603.4 1145.9,604.8 1149.9,607.4 1153.9,610.4 1156.9,608.4 1167.0,608.4 1170.0,609.4 1173.4,595.3 1178.0,592.7 1182.1,587.3 1190.1,579.2 1194.1,581.2 1199.1,582.7 1203.2,584.7 1209.2,588.3 1213.2,588.3 1221.3,576.6 1225.3,574.2 1230.3,570.2 1237.3,568.6 1245.4,565.4 1249.4,572.2 1253.4,574.2 1257.4,571.4 1261.4,571.2 1265.5,569.4 1268.9,574.6" fill="none" stroke="#1e90ff" stroke-width="1" shape-rendering="crispEdges"/>
<g shape-rendering="crispEdges"><rect x="5" y="642" width="1" height="5" fill="#c0c0c0"/><rect x="9" y="642" width="1" height="5" fill="#c0c0c0"/><rect x="13" y="642" width="1" height="5" fill="#c0c0c0"/><rect x="17" y="643" width="1" height="4" fill="#c0c0c0"/><rect x="21" y="645" width="1" height="2" fill="#c0c0c0"/><rect x="25" y="646" width="1" height="1" fill="#c0c0c0"/><rect x="29" y="646" width="1" height="3" fill="#c0c0c0"/><rect x="33" y="646" width="1" height="4" fill="#c0c0c0"/><rect x="37" y="646" width="1" height="5" fill="#c0c0c0"/><rect x="41" y="646" width="1" height="5" fill="#c0c0c0"/><rect x="45" y="646" width="1" height="6" fill="#c0c0c0"/><rect x="49" y="646" width="1" height="7" fill="#c0c0c0"/><rect x="53" y="646" width="1" height="7" fill="#c0c0c0"/><rect x="57" y="646" width="1" height="7" fill="#c0c0c0"/><rect x="61" y="646" width="1" height="7" fill="#c0c0c0"/><rect x="65" y="646" width="1" height="8" fill="#c0c0c0"/><rect x="69" y="646" width="1" height="8" fill="#c0c0c0"/><rect x="73" y="646" width="1" height="9" fill="#c0c0c0"/><rect x="77" y="646" width="1" height="9" fill="#c0c0c0"/><rect x="81" y="646" width="1" height="9" fill="#c0c0c0"/><rect x="85" y="646" width="1" height="10" fill="#c0c0c0"/><rect x="89" y="646" width="1" height="10" fill="#c0c0c0"/><rect x="93" y="646" width="1" height="11" fill="#c0c0c0"/><rect x="97" y="646" width="1" height="11" fill="#c0c0c0"/><rect x="101" y="646" width="1" height="12" fill="#c0c0c0"/><rect x="105" y="646" width="1" height="13" fill="#c0c0c0"/><rect x="109" y="646" width="1" height="14" fill="#c0c0c0"/><rect x="113" y="646" width="1" height="14" fill="#c0c0c0"/><rect x="117" y="646" width="1" height="14" fill="#c0c0c0"/><rect x="121" y="646" width="1" height="14" fill="#c0c0c0"/><rect x="125" y="646" width="1" height="14" fill="#c0c0c0"/><rect x="129" y="646" width="1" height="13" fill="#c0c0c0"/><rect x="133" y="646" width="1" height="13" fill="#c0c0c0"/><rect x="137" y="646" width="1" height="12" fill="#c0c0c0"/><rect x="141" y="646" width="1" height="11" fill="#c0c0c0"/><rect x="145" y="646" width="1" height="10" fill="#c0c0c0"/><rect x="149" y="646" width="1" height="9" fill="#c0c0c0"/><rect x="153" y="646" width="1" height="8" fill="#c0c0c0"/><rect x="157" y="646" width="1" height="7" fill="#c0c0c0"/><rect x="161" y="646" width="1" height="5" fill="#c0c0c0"/><rect x="165" y="646" width="1" height="4" fill="#c0c0c0"/><rect x="169" y="646" width="1" height="3" fill="#c0c0c0"/><rect x="173" y="646" width="1" height="2" fill="#c0c0c0"/><rect x="177" y="646" width="1" height="1" fill="#c0c0c0"/><rect x="193" y="646" width="1" height="1" fill="#c0c0c0"/><rect x="197" y="646" width="1" height="2" fill="#c0c0c0"/><rect x="201" y="646" width="1" height="3" fill="#c0c0c0"/><rect x="205" y="646" width="1" height="4" fill="#c0c0c0"/><rect x="209" y="646" width="1" height="6" fill="#c0c0c0"/><rect x="213" y="646" width="1" height="6" fill="#c0c0c0"/><rect x="217" y="646" width="1" height="6" fill="#c0c0c0"/><rect x="221" y="646" width="1" height="6" fill="#c0c0c0"/><rect x="225" y="646" width="1" height="6" fill="#c0c0c0"/><rect x="229" y="646" width="1" height="4" fill="#c0c0c0"/><rect x="233" y="646" width="1" height="4" fill="#c0c0c0"/><rect x="237" y="646" width="1" height="3" fill="#c0c0c0"/><rect x="241" y="646" width="1" height="2" fill="#c0c0c0"/><rect x="245" y="646" width="1" height="1" fill="#c0c0c0"/><rect x="249" y="645" width="1" height="2" fill="#c0c0c0"/><rect x="253" y="643" width="1" height="4" fill="#c0c0c0"/><rect x="257" y="643" width="1" height="4" fill="#c0c0c0"/><rect x="261" y="642" width="1" height="5" fill="#c0c0c0"/><rect x="265" y="642" width="1" height="5" fill="#c0c0c0"/><rect x="269" y="642" width="1" height="5" fill="#c0c0c0"/><rect x="273" y="642" width="1" height="5" fill="#c0c0c0"/><rect x="277" y="642" width="1" height="5" fill="#c0c0c0"/><rect x="281" y="642" width="1" height="5" fill="#c0c0c0"/><rect x="285" y="642" width="1" height="5" fill="#c0c0c0"/><rect x="289" y="642" width="1" height="5" fill="#c0c0c0"/><rect x="293" y="642" width="1" height="5" fill="#c0c0c0"/><rect x="297" y="642" width="1" height="5" fill="#c0c0c0"/><rect x="301" y="642" width="1" height="5" fill="#c0c0c0"/><rect x="305" y="642" width="1" height="5" fill="#c0c0c0"/><rect x="309" y="641" width="1" height="6" fill="#c0c0c0"/><rect x="313" y="641" width="1" height="6" fill="#c0c0c0"/><rect x="317" y="641" width="1" height="6" fill="#c0c0c0"/><rect x="321" y="641" width="1" height="6" fill="#c0c0c0"/><rect x="325" y="641" width="1" height="6" fill="#c0c0c0"/><rect x="329" y="641" width="1" height="6" fill="#c0c0c0"/><rect x="333" y="642" width="1" height="5" fill="#c0c0c0"/><rect x="337" y="644" width="1" height="3" fill="#c0c0c0"/><rect x="345" y="646" width="1" height="1" fill="#c0c0c0"/><rect x="349" y="646" width="1" height="2" fill="#c0c0c0"/><rect x="353" y="646" width="1" height="3" fill="#c0c0c0"/><rect x="357" y="646" width="1" height="5" fill="#c0c0c0"/><rect x="361" y="646" width="1" height="7" fill="#c0c0c0"/><rect x="365" y="646" width="1" height="8" fill="#c0c0c0"/><rect x="369" y="646" width="1" height="10" fill="#c0c0c0"/><rect x="373" y="646" width="1" height="12" fill="#c0c0c0"/><rect x="377" y="646" width="1" height="13" fill="#c0c0c0"/><rect x="381" y="646" width="1" height="15" fill="#c0c0c0"/><rect x="385" y="646" width="1" height="17" fill="#c0c0c0"/><rect x="389" y="646" width="1" height="16" fill="#c0c0c0"/><rect x="393" y="646" width="1" height="15" fill="#c0c0c0"/><rect x="397" y="646" width="1" height="15" fill="#c0c0c0"/><rect x="401" y="646" width="1" height="15" fill="#c0c0c0"/><rect x="405" y="646" width="1" height="15" fill="#c0c0c0"/><rect x="409" y="646" width="1" height="14" fill="#c0c0c0"/><rect x="413" y="646" width="1" height="14" fill="#c0c0c0"/><rect x="417" y="646" width="1" height="14" fill="#c0c0c0"/><rect x="421" y="646" width="1" height="14" fill="#c0c0c0"/><rect x="425" y="646" width="1" height="13" fill="#c0c0c0"/><rect x="429" y="646" width="1" height="13" fill="#c0c0c0"/><rect x="433" y="646" width="1" height="12" fill="#c0c0c0"/><rect x="437" y="646" width="1" height="12" fill="#c0c0c0"/><rect x="441" y="646" width="1" height="11" fill="#c0c0c0"/><rect x="445" y="646" width="1" height="11" fill="#c0c0c0"/><rect x="449" y="646" width="1" height="11" fill="#c0c0c0"/><rect x="453" y="646" width="1" height="11" fill="#c0c0c0"/><rect x="457" y="646" width="1" height="10" fill="#c0c0c0"/><rect x="461" y="646" width="1" height="10" fill="#c0c0c0"/><rect x="465" y="646" width="1" height="9" fill="#c0c0c0"/><rect x="469" y="646" width="1" height="9" fill="#c0c0c0"/><rect x="473" y="646" width="1" height="8" fill="#c0c0c0"/><rect x="477" y="646" width="1" height="8" fill="#c0c0c0"/><rect x="481" y="646" width="1" height="6" fill="#c0c0c0"/><rect x="485" y="646" width="1" height="5" fill="#c0c0c0"/><rect x="489" y="646" width="1" height="3" fill="#c0c0c0"/><rect x="493" y="646" width="1" height="1" fill="#c0c0c0"/><rect x="501" y="644" width="1" height="3" fill="#c0c0c0"/><rect x="505" y="644" width="1" height="3" fill="#c0c0c0"/><rect x="509" y="643" width="1" height="4" fill="#c0c0c0"/><rect x="513" y="642" width="1" height="5" fill="#c0c0c0"/><rect x="517" y="641" width="1" height="6" fill="#c0c0c0"/><rect x="521" y="641" width="1" height="6" fill="#c0c0c0"/><rect x="525" y="642" width="1" height="5" fill="#c0c0c0"/><rect x="529" y="643" width="1" height="4" fill="#c0c0c0"/><rect x="533" y="644" width="1" height="3" fill="#c0c0c0"/><rect x="537" y="645" width="1" height="2" fill="#c0c0c0"/><rect x="545" y="646" width="1" height="1" fill="#c0c0c0"/><rect x="549" y="646" width="1" height="2" fill="#c0c0c0"/><rect x="553" y="646" width="1" height="3" fill="#c0c0c0"/><rect x="557" y="646" width="1" height="4" fill="#c0c0c0"/><rect x="561" y="646" width="1" height="4" fill="#c0c0c0"/><rect x="565" y="646" width="1" height="4" fill="#c0c0c0"/><rect x="569" y="646" width="1" height="5" fill="#c0c0c0"/><rect x="573" y="646" width="1" height="6" fill="#c0c0c0"/><rect x="577" y="646" width="1" height="8" fill="#c0c0c0"/><rect x="581" y="646" width="1" height="7" fill="#c0c0c0"/><rect x="585" y="646" width="1" height="7" fill="#c0c0c0"/><rect x="589" y="646" width="1" height="7" fill="#c0c0c0"/><rect x="593" y="646" width="1" height="7" fill="#c0c0c0"/><rect x="597" y="646" width="1" height="6" fill="#c0c0c0"/><rect x="601" y="646" width="1" height="6" fill="#c0c0c0"/><rect x="605" y="646" width="1" height="5" fill="#c0c0c0"/><rect x="609" y="646" width="1" height="4" fill="#c0c0c0"/><rect x="613" y="646" width="1" height="3" fill="#c0c0c0"/><rect x="617" y="646" width="1" height="3" fill="#c0c0c0"/><rect x="621" y="646" width="1" height="2" fill="#c0c0c0"/><rect x="625" y="646" width="1" height="2" fill="#c0c0c0"/><rect x="629" y="646" width="1" height="1" fill="#c0c0c0"/><rect x="637" y="645" width="1" height="2" fill="#c0c0c0"/><rect x="641" y="644" width="1" height="3" fill="#c0c0c0"/><rect x="645" y="643" width="1" height="4" fill="#c0c0c0"/><rect x="649" y="642" width="1" height="5" fill="#c0c0c0"/><rect x="653" y="642" width="1" height="5" fill="#c0c0c0"/><rect x="657" y="642" width="1" height="5" fill="#c0c0c0"/><rect x="661" y="642" width="1" height="5" fill="#c0c0c0"/><rect x="665" y="641" width="1" height="6" fill="#c0c0c0"/><rect x="669" y="641" width="1" height="6" fill="#c0c0c0"/><rect x="673" y="640" width="1" height="7" fill="#c0c0c0"/><rect x="677" y="640" width="1" height="7" fill="#c0c0c0"/><rect x="681" y="639" width="1" height="8" fill="#c0c0c0"/><rect x="685" y="638" width="1" height="9" fill="#c0c0c0"/><rect x="689" y="638" width="1" height="9" fill="#c0c0c0"/><rect x="693" y="638" width="1" height="9" fill="#c0c0c0"/><rect x="697" y="639" width="1" height="8" fill="#c0c0c0"/><rect x="701" y="639" width="1" height="8" fill="#c0c0c0"/><rect x="705" y="640" width="1" height="7" fill="#c0c0c0"/><rect x="709" y="641" width="1" height="6" fill="#c0c0c0"/><rect x="713" y="642" width="1" height="5" fill="#c0c0c0"/><rect x="717" y="643" width="1" height="4" fill="#c0c0c0"/><rect x="721" y="645" width="1" height="2" fill="#c0c0c0"/><rect x="729" y="646" width="1" height="1" fill="#c0c0c0"/><rect x="733" y="646" width="1" height="1" fill="#c0c0c0"/><rect x="737" y="646" width="1" height="1" fill="#c0c0c0"/><rect x="741" y="646" width="1" height="1" fill="#c0c0c0"/><rect x="745" y="646" width="1" height="2" fill="#c0c0c0"/><rect x="749" y="646" width="1" height="2" fill="#c0c0c0"/><rect x="753" y="646" width="1" height="3" fill="#c0c0c0"/><rect x="757" y="646" width="1" height="4" fill="#c0c0c0"/><rect x="761" y="646" width="1" height="4" fill="#c0c0c0"/><rect x="765" y="646" width="1" height="5" fill="#c0c0c0"/><rect x="769" y="646" width="1" height="5" fill="#c0c0c0"/><rect x="773" y="646" width="1" height="5" fill="#c0c0c0"/><rect x="777" y="646" width="1" height="5" fill="#c0c0c0"/><rect x="781" y="646" width="1" height="6" fill="#c0c0c0"/><rect x="785" y="646" width="1" height="5" fill="#c0c0c0"/><rect x="789" y="646" width="1" height="3" fill="#c0c0c0"/><rect x="793" y="646" width="1" height="2" fill="#c0c0c0"/><rect x="797" y="646" width="1" height="1" fill="#c0c0c0"/><rect x="817" y="645" width="1" height="2" fill="#c0c0c0"/><rect x="821" y="644" width="1" height="3" fill="#c0c0c0"/><rect x="825" y="644" width="1" height="3" fill="#c0c0c0"/><rect x="829" y="643" width="1" height="4" fill="#c0c0c0"/><rect x="833" y="643" width="1" height="4" fill="#c0c0c0"/><rect x="837" y="642" width="1" height="5" fill="#c0c0c0"/><rect x="841" y="642" width="1" height="5" fill="#c0c0c0"/><rect x="845" y="642" width="1" height="5" fill="#c0c0c0"/><rect x="849" y="642" width="1" height="5" fill="#c0c0c0"/><rect x="853" y="641" width="1" height="6" fill="#c0c0c0"/><rect x="857" y="641" width="1" height="6" fill="#c0c0c0"/><rect x="861" y="640" width="1" height="7" fill="#c0c0c0"/><rect x="865" y="639" width="1" height="8" fill="#c0c0c0"/><rect x="869" y="639" width="1" height="8" fill="#c0c0c0"/><rect x="873" y="638" width="1" height="9" fill="#c0c0c0"/><rect x="877" y="637" width="1" height="10" fill="#c0c0c0"/><rect x="881" y="635" width="1" height="12" fill="#c0c0c0"/><rect x="885" y="634" width="1" height="13" fill="#c0c0c0"/><rect x="889" y="634" width="1" height="13" fill="#c0c0c0"/><rect x="893" y="633" width="1" height="14" fill="#c0c0c0"/><rect x="897" y="635" width="1" height="12" fill="#c0c0c0"/><rect x="901" y="635" width="1" height="12" fill="#c0c0c0"/><rect x="905" y="637" width="1" height="10" fill="#c0c0c0"/><rect x="909" y="640" width="1" height="7" fill="#c0c0c0"/><rect x="913" y="643" width="1" height="4" fill="#c0c0c0"/><rect x="917" y="645" width="1" height="2" fill="#c0c0c0"/><rect x="941" y="646" width="1" height="1" fill="#c0c0c0"/><rect x="945" y="646" width="1" height="1" fill="#c0c0c0"/><rect x="949" y="646" width="1" height="1" fill="#c0c0c0"/><rect x="953" y="646" width="1" height="2" fill="#c0c0c0"/><rect x="957" y="646" width="1" height="2" fill="#c0c0c0"/><rect x="961" y="646" width="1" height="3" fill="#c0c0c0"/><rect x="965" y="646" width="1" height="4" fill="#c0c0c0"/><rect x="969" y="646" width="1" height="4" fill="#c0c0c0"/><rect x="973" y="646" width="1" height="6" fill="#c0c0c0"/><rect x="977" y="646" width="1" height="8" fill="#c0c0c0"/><rect x="981" y="646" width="1" height="9" fill="#c0c0c0"/><rect x="985" y="646" width="1" height="11" fill="#c0c0c0"/><rect x="989" y="646" width="1" height="12" fill="#c0c0c0"/><rect x="993" y="646" width="1" height="14" fill="#c0c0c0"/><rect x="997" y="646" width="1" height="15" fill="#c0c0c0"/><rect x="1001" y="646" width="1" height="16" fill="#c0c0c0"/><rect x="1005" y="646" width="1" height="16" fill="#c0c0c0"/><rect x="1009" y="646" width="1" height="15" fill="#c0c0c0"/><rect x="1013" y="646" width="1" height="14" fill="#c0c0c0"/><rect x="1017" y="646" width="1" height="14" fill="#c0c0c0"/><rect x="1021" y="646" width="1" height="14" fill="#c0c0c0"/><rect x="1025" y="646" width="1" height="13" fill="#c0c0c0"/><rect x="1029" y="646" width="1" height="13" fill="#c0c0c0"/><rect x="1033" y="646" width="1" height="12" fill="#c0c0c0"/><rect x="1037" y="646" width="1" height="12" fill="#c0c0c0"/><rect x="1041" y="646" width="1" height="11" fill="#c0c0c0"/><rect x="1045" y="646" width="1" height="11" fill="#c0c0c0"/><rect x="1049" y="646" width="1" height="10" fill="#c0c0c0"/><rect x="1053" y="646" width="1" height="10" fill="#c0c0c0"/><rect x="1057" y="646" width="1" height="10" fill="#c0c0c0"/><rect x="1061" y="646" width="1" height="11" fill="#c0c0c0"/><rect x="1065" y="646" width="1" height="11" fill="#c0c0c0"/><rect x="1069" y="646" width="1" height="11" fill="#c0c0c0"/><rect x="1073" y="646" width="1" height="12" fill="#c0c0c0"/><rect x="1077" y="646" width="1" height="13" fill="#c0c0c0"/><rect x="1081" y="646" width="1" height="14" fill="#c0c0c0"/><rect x="1085" y="646" width="1" height="16" fill="#c0c0c0"/><rect x="1089" y="646" width="1" height="19" fill="#c0c0c0"/><rect x="1093" y="646" width="1" height="19" fill="#c0c0c0"/><rect x="1097" y="646" width="1" height="20" fill="#c0c0c0"/><rect x="1101" y="646" width="1" height="16" fill="#c0c0c0"/><rect x="1105" y="646" width="1" height="14" fill="#c0c0c0"/><rect x="1109" y="646" width="1" height="14" fill="#c0c0c0"/><rect x="1113" y="646" width="1" height="12" fill="#c0c0c0"/><rect x="1117" y="646" width="1" height="10" fill="#c0c0c0"/><rect x="1121" y="646" width="1" height="8" fill="#c0c0c0"/><rect x="1125" y="646" width="1" height="11" fill="#c0c0c0"/><rect x="1129" y="646" width="1" height="12" fill="#c0c0c0"/><rect x="1133" y="646" width="1" height="18" fill="#c0c0c0"/><rect x="1137" y="646" width="1" height="26" fill="#c0c0c0"/><rect x="1141" y="646" width="1" height="32" fill="#c0c0c0"/><rect x="1145" y="646" width="1" height="36" fill="#c0c0c0"/><rect x="1149" y="646" width="1" height="43" fill="#c0c0c0"/><rect x="1153" y="646" width="1" height="52" fill="#c0c0c0"/><rect x="1157" y="646" width="1" height="57" fill="#c0c0c0"/><rect x="1161" y="646" width="1" height="61" fill="#c0c0c0"/><rect x="1165" y="646" width="1" height="64" fill="#c0c0c0"/><rect x="1169" y="646" width="1" height="67" fill="#c0c0c0"/><rect x="1173" y="646" width="1" height="65" fill="#c0c0c0"/><rect x="1177" y="646" width="1" height="61" fill="#c0c0c0"/><rect x="1181" y="646" width="1" height="56" fill="#c0c0c0"/><rect x="1185" y="646" width="1" height="49" fill="#c0c0c0"/><rect x="1189" y="646" width="1" height="41" fill="#c0c0c0"/><rect x="1193" y="646" width="1" height="36" fill="#c0c0c0"/><rect x="1197" y="646" width="1" height="32" fill="#c0c0c0"/><rect x="1201" y="646" width="1" height="29" fill="#c0c0c0"/><rect x="1205" y="646" width="1" height="28" fill="#c0c0c0"/><rect x="1209" y="646" width="1" height="27" fill="#c0c0c0"/><rect x="1213" y="646" width="1" height="27" fill="#c0c0c0"/><rect x="1217" y="646" width="1" height="24" fill="#c0c0c0"/><rect x="1221" y="646" width="1" height="19" fill="#c0c0c0"/><rect x="1225" y="646" width="1" height="14" fill="#c0c0c0"/><rect x="1229" y="646" width="1" height="9" fill="#c0c0c0"/><rect x="1233" y="646" width="1" height="3" fill="#c0c0c0"/><rect x="1237" y="645" width="1" height="2" fill="#c0c0c0"/><rect x="1241" y="641" width="1" height="6" fill="#c0c0c0"/><rect x="1245" y="637" width="1" height="10" fill="#c0c0c0"/><rect x="1249" y="636" width="1" height="11" fill="#c0c0c0"/><rect x="1253" y="636" width="1" height="11" fill="#c0c0c0"/><rect x="1257" y="635" width="1" height="12" fill="#c0c0c0"/><rect x="1261" y="634" width="1" height="13" fill="#c0c0c0"/><rect x="1265" y="633" width="1" height="14" fill="#c0c0c0"/><rect x="1269" y="634" width="1" height="13" fill="#c0c0c0"/></g>
<polyline points="5.0,643.5 10.0,640.9 18.1,640.9 26.1,642.5 34.2,645.0 42.2,647.0 50.2,649.6 58.3,651.6 66.3,653.4 74.4,654.6 82.4,655.0 90.4,656.2 98.5,656.6 106.5,657.6 114.5,659.0 122.6,659.8 130.6,660.2 138.7,660.2 146.7,659.6 154.7,657.6 162.8,655.6 170.8,653.6 178.9,650.6 186.9,648.6 192.9,647.0 201.0,647.0 209.0,647.6 217.0,649.6 225.1,650.6 233.1,651.4 241.2,650.6 247.2,650.2 253.2,647.6 259.2,645.0 267.3,643.5 275.3,642.5 291.4,642.5 311.5,642.5 321.5,641.5 328.0,640.9 344.1,640.9 350.1,642.5 358.2,644.5 366.2,647.6 374.3,651.6 382.3,655.6 390.3,658.6 398.4,660.6 406.4,661.8 414.5,662.2 422.5,661.8 430.5,660.6 438.6,660.2 446.6,658.6 454.6,657.6 462.7,657.0 470.7,656.2 480.8,656.2 486.8,654.6 492.8,653.0 500.9,651.0 508.9,647.6 516.9,644.5 525.0,642.5 533.0,641.1 537.0,641.1 541.1,642.1 549.1,642.9 557.1,645.0 565.2,647.0 573.2,649.0 581.3,651.0 589.3,652.2 601.4,652.2 611.4,651.6 621.4,650.6 629.5,649.0 637.5,647.0 645.6,645.6 648.0,645.0 656.1,642.9 664.1,642.1 672.2,641.5 680.2,640.1 688.2,639.5 696.3,638.9 704.3,638.5 714.4,638.5 722.4,639.5 730.4,640.5 738.5,643.5 746.5,646.2 754.5,647.6 762.6,649.0 770.6,649.6 778.7,650.2 786.7,651.2 794.7,650.6 802.8,649.6 810.8,648.6 818.9,646.6 826.9,645.6 834.9,644.5 843.0,643.5 851.0,642.5 859.1,640.9 867.1,640.1 875.1,638.9 883.2,637.5 891.2,636.1 899.2,634.9 907.3,634.5 915.3,635.5 923.4,638.9 931.4,640.5 939.4,643.5 947.5,645.6 955.5,646.6 963.6,648.2 968.0,648.6 976.1,650.2 984.1,652.2 992.2,654.6 1000.2,657.0 1008.2,659.6 1016.3,660.6 1024.3,661.4 1034.4,661.0 1042.4,659.6 1050.4,658.6 1056.5,657.4 1066.5,657.4 1076.6,657.4 1082.6,658.6 1090.6,660.6 1098.7,661.6 1101.3,662.7 1107.9,662.7 1117.1,662.7 1121.7,661.5 1126.2,659.8 1134.1,659.5 1139.4,660.4 1143.3,662.4 1147.2,666.3 1152.5,672.2 1157.7,678.8 1161.7,684.7 1165.6,690.0 1170.9,696.5 1176.1,701.1 1181.4,705.1 1186.6,704.8 1193.2,702.4 1199.7,697.2 1205.0,691.3 1211.5,684.7 1216.8,680.1 1223.4,674.2 1229.9,669.6 1235.2,664.4 1241.7,659.1 1247.0,653.9 1252.2,648.6 1257.5,643.4 1262.7,638.8 1269.3,636.2" fill="none" stroke="#ff0000" stroke-width="1" stroke-dasharray="3,3" shape-rendering="crispEdges"/>
<g shape-rendering="crispEdges"><rect x="5" y="719" width="1" height="3" fill="#000"/><rect x="69" y="719" width="1" height="3" fill="#000"/><rect x="133" y="719" width="1" height="3" fill="#000"/><rect x="197" y="719" width="1" height="3" fill="#000"/><rect x="261" y="719" width="1" height="3" fill="#000"/><rect x="325" y="719" width="1" height="3" fill="#000"/><rect x="389" y="719" width="1" height="3" fill="#000"/><rect x="453" y="719" width="1" height="3" fill="#000"/><rect x="517" y="719" width="1" height="3" fill="#000"/><rect x="581" y="719" width="1" height="3" fill="#000"/><rect x="645" y="719" width="1" height="3" fill="#000"/><rect x="709" y="719" width="1" height="3" fill="#000"/><rect x="773" y="719" width="1" height="3" fill="#000"/><rect x="837" y="719" width="1" height="3" fill="#000"/><rect x="901" y="719" width="1" height="3" fill="#000"/><rect x="965" y="719" width="1" height="3" fill="#000"/><rect x="1029" y="719" width="1" height="3" fill="#000"/><rect x="1093" y="719" width="1" height="3" fill="#000"/><rect x="1157" y="719" width="1" height="3" fill="#000"/><rect x="1221" y="719" width="1" height="3" fill="#000"/></g>
</svg>
<svg class="abs" style="left:0;top:0" width="20" height="40"><polygon points="8,31 15.4,31 11.7,35.2" fill="#000"/></svg>
<div class="abs" style="left:20.3px;top:27.9px;font-size:9.7px;line-height:11px;color:#000;transform:scaleX(0.992);transform-origin:0 0;">AUDUSD,Daily</div>
<div class="abs" style="left:92.2px;top:27.9px;font-size:9.7px;line-height:11px;color:#000;transform:scaleX(0.954);transform-origin:0 0;">0.63855 0.63890 0.63048 0.63076</div>
<div class="abs" style="left:9.3px;top:536.5px;font-size:9.7px;line-height:11px;color:#000;transform:scaleX(0.969);transform-origin:0 0;">RSI(14) 53.5098</div>
<div class="abs" style="left:9.3px;top:629.7px;font-size:9.7px;line-height:11px;color:#000;transform:scaleX(0.969);transform-origin:0 0;">MACD(12,26,9) 0.004492 0.003505</div>
<div class="abs t9" style="left:1602.8px;top:27.9px">0.72580</div>
<div class="abs t9" style="left:1602.8px;top:60.9px">0.71390</div>
<div class="abs t9" style="left:1602.8px;top:93.9px">0.70200</div>
<div class="abs t9" style="left:1602.8px;top:126.9px">0.69010</div>
<div class="abs t9" style="left:1602.8px;top:159.9px">0.67820</div>
<div class="abs t9" style="left:1602.8px;top:192.9px">0.66630</div>
<div class="abs t9" style="left:1602.8px;top:225.9px">0.65440</div>
<div class="abs t9" style="left:1602.8px;top:258.9px">0.64250</div>
<div class="abs t9" style="left:1602.8px;top:324.9px">0.61905</div>
<div class="abs t9" style="left:1602.8px;top:357.9px">0.60715</div>
<div class="abs t9" style="left:1602.8px;top:390.9px">0.59525</div>
<div class="abs t9" style="left:1602.8px;top:423.9px">0.58335</div>
<div class="abs t9" style="left:1602.8px;top:489.9px">0.55955</div>
<div class="abs t9" style="left:1602.8px;top:522.9px">0.54765</div>
<div class="abs t9" style="left:1600.5px;top:535.1px">100</div>
<div class="abs t9" style="left:1600.5px;top:557.1px">70</div>
<div class="abs t9" style="left:1600.5px;top:592.3000000000001px">30</div>
<div class="abs t9" style="left:1600.5px;top:613.2px">0</div>
<div class="abs t9" style="left:1600.5px;top:629.3000000000001px">0.00622</div>
<div class="abs t9" style="left:1600.5px;top:642.2px">0.00</div>
<div class="abs t9" style="left:1600.5px;top:706.7px">-0.023959</div>
<div class="pl" style="top:181px;background:#ff0000"><span>0.67026</span></div>
<div class="pl" style="top:236px;background:#ff0000"><span>0.65015</span></div>
<div class="pl" style="top:292px;background:#00ff00"><span>0.63003</span></div>
<div class="pl" style="top:347px;background:#0000ff"><span>0.61017</span></div>
<div class="pl" style="top:401px;background:#0000ff"><span>0.59066</span></div>
<div class="pl" style="top:458px;background:#0000ff"><span>0.57008</span></div>
<div class="pl" style="top:513px;background:#0000ff"><span>0.55021</span></div>
<div class="abs" style="left:4.2px;top:722.8px;font-size:9.7px;line-height:11px;color:#000;transform:scaleX(0.959);transform-origin:0 0;">18 Apr 2019</div>
<div class="abs" style="left:68.2px;top:722.8px;font-size:9.7px;line-height:11px;color:#000;transform:scaleX(0.959);transform-origin:0 0;">7 May 2019</div>
<div class="abs" style="left:132.2px;top:722.8px;font-size:9.7px;line-height:11px;color:#000;transform:scaleX(0.959);transform-origin:0 0;">25 May 2019</div>
<div class="abs" style="left:196.2px;top:722.8px;font-size:9.7px;line-height:11px;color:#000;transform:scaleX(0.959);transform-origin:0 0;">13 Jun 2019</div>
<div class="abs" style="left:260.2px;top:722.8px;font-size:9.7px;line-height:11px;color:#000;transform:scaleX(0.959);transform-origin:0 0;">2 Jul 2019</div>
<div class="abs" style="left:324.2px;top:722.8px;font-size:9.7px;line-height:11px;color:#000;transform:scaleX(0.959);transform-origin:0 0;">20 Jul 2019</div>
<div class="abs" style="left:388.2px;top:722.8px;font-size:9.7px;line-height:11px;color:#000;transform:scaleX(0.959);transform-origin:0 0;">8 Aug 2019</div>
<div class="abs" style="left:452.2px;top:722.8px;font-size:9.7px;line-height:11px;color:#000;transform:scaleX(0.959);transform-origin:0 0;">27 Aug 2019</div>
<div class="abs" style="left:516.2px;top:722.8px;font-size:9.7px;line-height:11px;color:#000;transform:scaleX(0.959);transform-origin:0 0;">14 Sep 2019</div>
<div class="abs" style="left:580.2px;top:722.8px;font-size:9.7px;line-height:11px;color:#000;transform:scaleX(0.959);transform-origin:0 0;">3 Oct 2019</div>
<div class="abs" style="left:644.2px;top:722.8px;font-size:9.7px;line-height:11px;color:#000;transform:scaleX(0.959);transform-origin:0 0;">22 Oct 2019</div>
<div class="abs" style="left:708.2px;top:722.8px;font-size:9.7px;line-height:11px;color:#000;transform:scaleX(0.959);transform-origin:0 0;">9 Nov 2019</div>
<div class="abs" style="left:772.2px;top:722.8px;font-size:9.7px;line-height:11px;color:#000;transform:scaleX(0.959);transform-origin:0 0;">28 Nov 2019</div>
<div class="abs" style="left:836.2px;top:722.8px;font-size:9.7px;line-height:11px;color:#000;transform:scaleX(0.959);transform-origin:0 0;">17 Dec 2019</div>
<div class="abs" style="left:900.2px;top:722.8px;font-size:9.7px;line-height:11px;color:#000;transform:scaleX(0.959);transform-origin:0 0;">4 Jan 2020</div>
<div class="abs" style="left:964.2px;top:722.8px;font-size:9.7px;line-height:11px;color:#000;transform:scaleX(0.959);transform-origin:0 0;">23 Jan 2020</div>
<div class="abs" style="left:1028.2px;top:722.8px;font-size:9.7px;line-height:11px;color:#000;transform:scaleX(0.959);transform-origin:0 0;">11 Feb 2020</div>
<div class="abs" style="left:1092.2px;top:722.8px;font-size:9.7px;line-height:11px;color:#000;transform:scaleX(0.959);transform-origin:0 0;">29 Feb 2020</div>
<div class="abs" style="left:1156.2px;top:722.8px;font-size:9.7px;line-height:11px;color:#000;transform:scaleX(0.959);transform-origin:0 0;">19 Mar 2020</div>
<div class="abs" style="left:1220.2px;top:722.8px;font-size:9.7px;line-height:11px;color:#000;transform:scaleX(0.959);transform-origin:0 0;">7 Apr 2020</div>
<div class="abs" style="left:0;top:739px;width:1642px;height:1px;background:#e8e8e8;"></div>
<div class="abs" style="left:0;top:741px;width:1642px;height:1px;background:#000;"></div>
<div class="abs" style="left:0;top:742px;width:1642px;height:1px;background:#fafafa;"></div>
<div class="abs" style="left:0;top:743px;width:1642px;height:18px;background:#f0f0f0;"></div>
<div class="abs" style="left:0;top:761px;width:1642px;height:1px;background:#fcfcfc;"></div>
<div class="abs" style="left:0;top:742px;width:2px;height:19px;background:#808080;"></div>
<div class="abs" style="left:210px;top:741px;width:104px;height:19px;background:#fff;border:1px solid #000;border-top:none;box-sizing:border-box;"></div>
<div class="abs tab" style="left:18.099999999999998px;">EURUSD,Daily</div>
<div class="abs tab" style="left:120.3px;">USDCHF,Daily</div>
<div class="abs tab" style="left:220.89999999999998px;color:#000;font-size:12.3px;">AUDUSD,Daily</div>
<div class="abs tab" style="left:325.3px;">USDCAD,Daily</div>
<div class="abs tab" style="left:428.5px;">USDCNH,Daily</div>
<div class="abs tab" style="left:534.0px;">EURUSD,Daily</div>
<div class="abs tab" style="left:636.1px;">GBPUSD,M5</div>
<div class="abs tab" style="left:728.9000000000001px;">XAUUSD,H1</div>
<div class="abs tab" style="left:821.1px;">HK50,H1</div>
<div class="abs tab" style="left:893.1px;">UK100,H1</div>
<div class="abs tab" style="left:973.5px;">UK100,H1</div>
<div class="abs tab" style="left:1053.2px;">GER30,H1</div>
<div class="abs tab" style="left:1131.9px;">FRA40,H1</div>
<div class="abs tab" style="left:1207.9px;">USOil,H1</div>
<div class="abs tab" style="left:1280.0px;">USDJPY,H1</div>
<div class="sep" style="left:110px"></div>
<div class="sep" style="left:418px"></div>
<div class="sep" style="left:522px"></div>
<div class="sep" style="left:626px"></div>
<div class="sep" style="left:718px"></div>
<div class="sep" style="left:810px"></div>
<div class="sep" style="left:882px"></div>
<div class="sep" style="left:962px"></div>
<div class="sep" style="left:1042px"></div>
<div class="sep" style="left:1122px"></div>
<div class="sep" style="left:1198px"></div>
<div class="sep" style="left:1270px"></div>
<div class="sep" style="left:1354px"></div>
<svg class="abs" style="left:1605px;top:742px" width="37" height="20"><polygon points="7.7,8 11.3,4.8 11.3,11.2" fill="#8c8c8c"/><polygon points="26.9,4.8 30.4,8 26.9,11.2" fill="#8c8c8c"/></svg>
</body></html>
